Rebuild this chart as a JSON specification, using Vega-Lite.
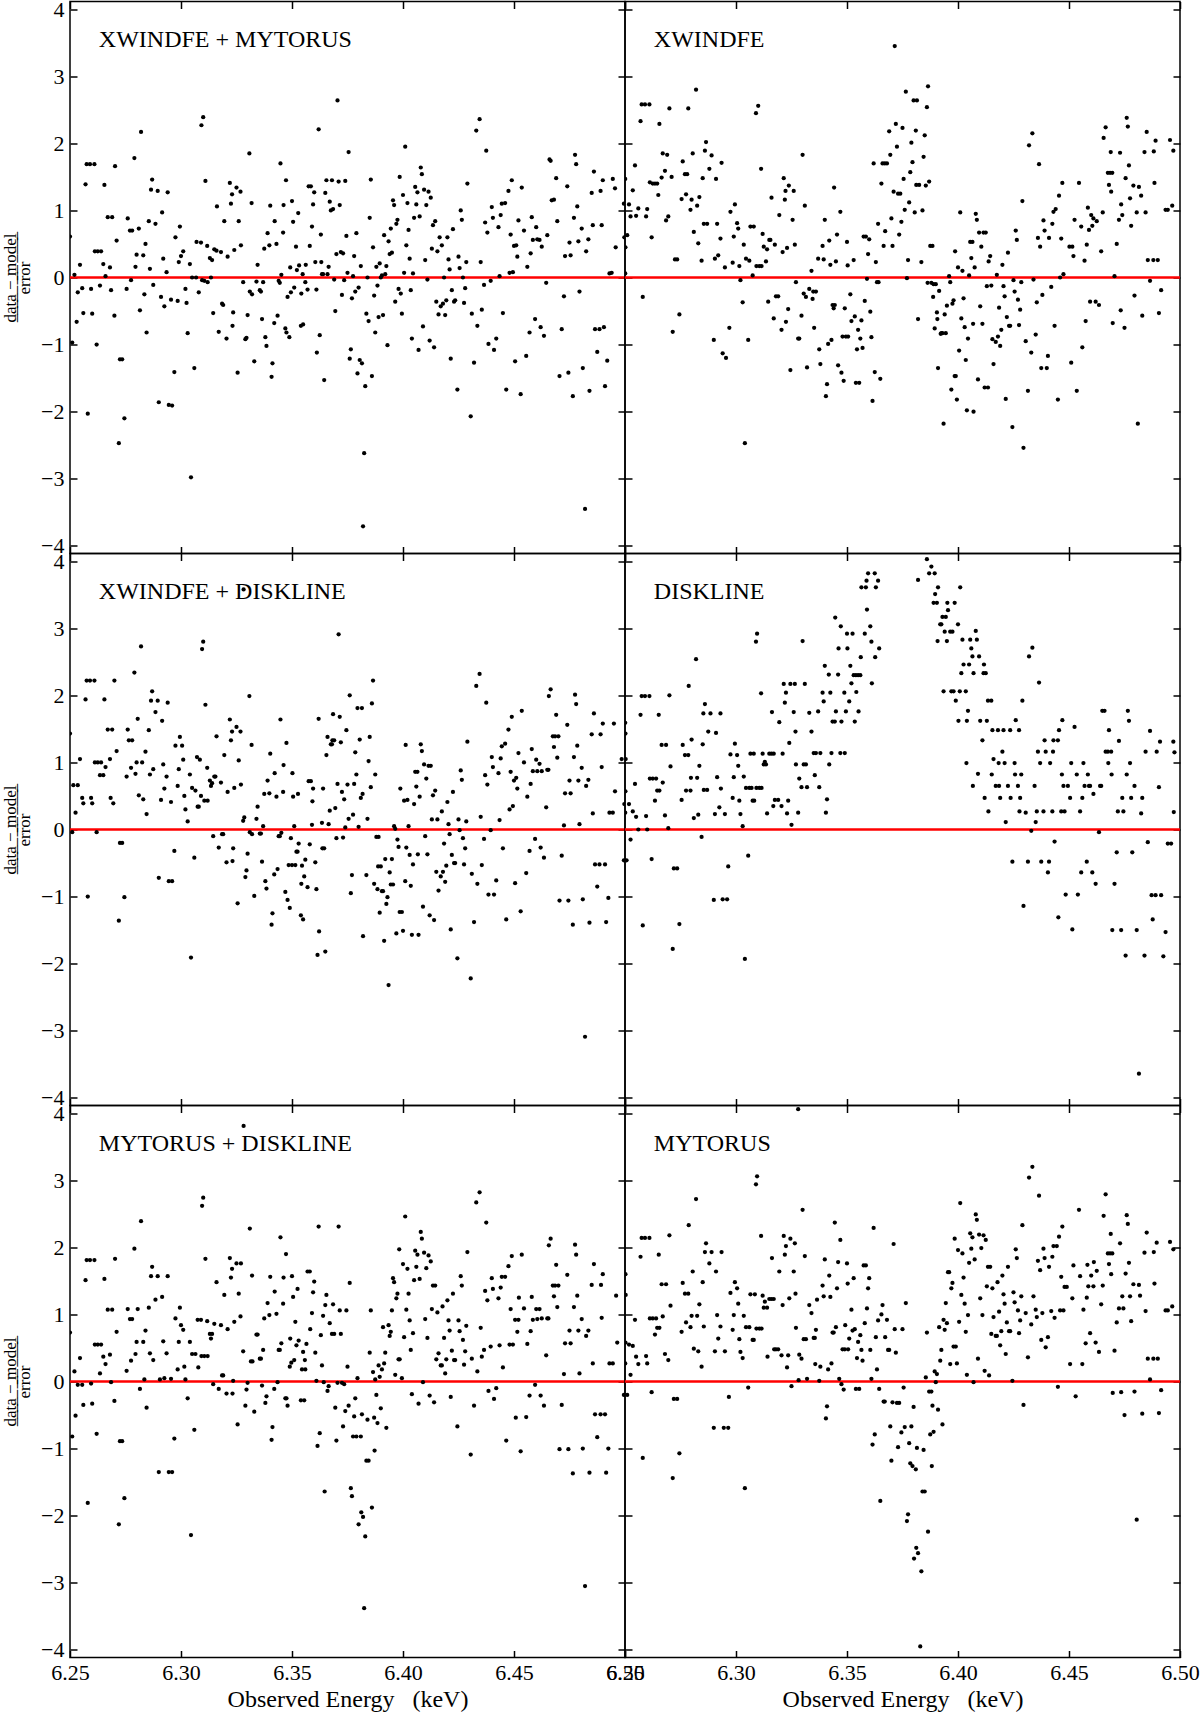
{
"$schema":"https://vega.github.io/schema/vega-lite/v6.json",
"background":"white",
"padding":{"left":0,"top":-3.5,"right":0,"bottom":0},
"columns":2,
"spacing":0,
"bounds":"flush",
"datasets":{
"A":[{"x":6.25,"y":0.61},{"x":6.251,"y":-0.97},{"x":6.252,"y":0.04},{"x":6.253,"y":-0.66},{"x":6.2535,"y":-0.22},{"x":6.2545,"y":0.19},{"x":6.2555,"y":-0.16},{"x":6.256,"y":-0.53},{"x":6.257,"y":1.39},{"x":6.2575,"y":1.69},{"x":6.259,"y":1.69},{"x":6.261,"y":1.69},{"x":6.258,"y":-2.03},{"x":6.2595,"y":-0.17},{"x":6.26,"y":-0.54},{"x":6.2612,"y":0.39},{"x":6.2625,"y":0.39},{"x":6.264,"y":0.39},{"x":6.262,"y":-1.0},{"x":6.2635,"y":-0.12},{"x":6.265,"y":0.2},{"x":6.2655,"y":1.38},{"x":6.266,"y":0.02},{"x":6.267,"y":0.9},{"x":6.269,"y":0.9},{"x":6.268,"y":0.15},{"x":6.2685,"y":-0.19},{"x":6.27,"y":-0.57},{"x":6.2703,"y":1.66},{"x":6.271,"y":0.55},{"x":6.272,"y":-2.47},{"x":6.2725,"y":-1.22},{"x":6.2735,"y":-1.22},{"x":6.2745,"y":-2.1},{"x":6.2755,"y":-0.17},{"x":6.276,"y":0.88},{"x":6.277,"y":0.7},{"x":6.278,"y":0.7},{"x":6.2775,"y":-0.04},{"x":6.279,"y":1.78},{"x":6.2795,"y":0.16},{"x":6.28,"y":0.34},{"x":6.281,"y":0.73},{"x":6.2815,"y":-0.49},{"x":6.282,"y":2.17},{"x":6.283,"y":0.33},{"x":6.2835,"y":-0.25},{"x":6.284,"y":0.5},{"x":6.2845,"y":-0.82},{"x":6.2855,"y":0.84},{"x":6.286,"y":0.13},{"x":6.2865,"y":1.31},{"x":6.287,"y":1.46},{"x":6.2875,"y":-0.11},{"x":6.2885,"y":0.8},{"x":6.2895,"y":1.29},{"x":6.29,"y":-1.86},{"x":6.291,"y":-0.29},{"x":6.2915,"y":0.97},{"x":6.292,"y":0.28},{"x":6.2925,"y":-0.43},{"x":6.2935,"y":0.08},{"x":6.294,"y":1.27},{"x":6.2945,"y":-1.9},{"x":6.296,"y":-1.91},{"x":6.2955,"y":-0.33},{"x":6.297,"y":-1.41},{"x":6.2975,"y":0.6},{"x":6.2985,"y":-0.35},{"x":6.299,"y":0.23},{"x":6.2995,"y":0.76},{"x":6.3,"y":0.32},{"x":6.301,"y":0.39},{"x":6.302,"y":-0.17},{"x":6.3025,"y":-0.38},{"x":6.303,"y":-0.83},{"x":6.304,"y":0.2},{"x":6.3045,"y":-2.98},{"x":6.305,"y":0.0},{"x":6.306,"y":-1.35},{"x":6.3068,"y":0.0},{"x":6.307,"y":0.53},{"x":6.309,"y":0.52},{"x":6.308,"y":-0.22},{"x":6.3095,"y":-0.04},{"x":6.3105,"y":-0.05},{"x":6.312,"y":-0.07},{"x":6.3092,"y":2.27},{"x":6.31,"y":2.39},{"x":6.311,"y":1.44},{"x":6.3118,"y":0.47},{"x":6.313,"y":0.29},{"x":6.314,"y":0.26},{"x":6.3135,"y":0.0},{"x":6.3145,"y":-0.53},{"x":6.315,"y":0.42},{"x":6.316,"y":0.4},{"x":6.3162,"y":1.06},{"x":6.317,"y":-0.81},{"x":6.318,"y":0.38},{"x":6.3185,"y":-0.39},{"x":6.319,"y":-0.41},{"x":6.3195,"y":0.84},{"x":6.3205,"y":-0.91},{"x":6.321,"y":0.31},{"x":6.322,"y":1.41},{"x":6.3225,"y":1.1},{"x":6.323,"y":1.24},{"x":6.3232,"y":-0.72},{"x":6.3235,"y":-0.52},{"x":6.324,"y":0.41},{"x":6.325,"y":1.34},{"x":6.3255,"y":-1.42},{"x":6.326,"y":0.84},{"x":6.3268,"y":1.28},{"x":6.327,"y":0.48},{"x":6.328,"y":-0.07},{"x":6.329,"y":-0.92},{"x":6.3295,"y":-0.9},{"x":6.33,"y":-0.56},{"x":6.3308,"y":1.85},{"x":6.331,"y":-0.21},{"x":6.332,"y":-0.25},{"x":6.3318,"y":1.11},{"x":6.333,"y":-1.25},{"x":6.334,"y":-0.06},{"x":6.3345,"y":0.19},{"x":6.3355,"y":-0.19},{"x":6.336,"y":-0.21},{"x":6.3365,"y":-0.62},{"x":6.337,"y":-0.07},{"x":6.3375,"y":0.43},{"x":6.338,"y":-0.89},{"x":6.3385,"y":-1.02},{"x":6.339,"y":0.66},{"x":6.3398,"y":0.48},{"x":6.3402,"y":1.07},{"x":6.3408,"y":-1.48},{"x":6.3412,"y":-1.28},{"x":6.342,"y":-0.68},{"x":6.3422,"y":0.84},{"x":6.343,"y":0.5},{"x":6.3435,"y":-0.57},{"x":6.344,"y":-0.05},{"x":6.3445,"y":-0.08},{"x":6.3448,"y":1.7},{"x":6.3452,"y":0.04},{"x":6.346,"y":0.67},{"x":6.3462,"y":1.08},{"x":6.347,"y":-0.76},{"x":6.3475,"y":-0.82},{"x":6.3473,"y":1.45},{"x":6.348,"y":-0.29},{"x":6.3488,"y":-0.89},{"x":6.3492,"y":0.15},{"x":6.3495,"y":-0.22},{"x":6.35,"y":1.14},{"x":6.3505,"y":0.83},{"x":6.351,"y":-0.15},{"x":6.3518,"y":0.46},{"x":6.3522,"y":0.11},{"x":6.3528,"y":0.96},{"x":6.3532,"y":0.18},{"x":6.354,"y":-0.72},{"x":6.355,"y":-0.7},{"x":6.3542,"y":-0.24},{"x":6.3548,"y":0.05},{"x":6.356,"y":-0.07},{"x":6.3562,"y":0.19},{"x":6.357,"y":-0.18},{"x":6.3575,"y":1.36},{"x":6.3585,"y":1.36},{"x":6.358,"y":0.47},{"x":6.359,"y":0.76},{"x":6.3595,"y":1.09},{"x":6.36,"y":1.27},{"x":6.3605,"y":0.23},{"x":6.361,"y":-0.18},{"x":6.3612,"y":-1.12},{"x":6.362,"y":2.21},{"x":6.3625,"y":-0.86},{"x":6.363,"y":0.64},{"x":6.3632,"y":0.23},{"x":6.3635,"y":0.05},{"x":6.364,"y":0.05},{"x":6.3645,"y":-1.53},{"x":6.365,"y":1.26},{"x":6.3655,"y":1.45},{"x":6.366,"y":0.05},{"x":6.3665,"y":0.16},{"x":6.367,"y":1.13},{"x":6.3675,"y":1.0},{"x":6.368,"y":1.45},{"x":6.3685,"y":1.02},{"x":6.369,"y":-0.03},{"x":6.3695,"y":-0.5},{"x":6.37,"y":0.35},{"x":6.3705,"y":2.64},{"x":6.371,"y":1.43},{"x":6.3715,"y":1.08},{"x":6.372,"y":0.38},{"x":6.3725,"y":-0.26},{"x":6.373,"y":0.36},{"x":6.3735,"y":-0.04},{"x":6.374,"y":1.44},{"x":6.3745,"y":0.62},{"x":6.375,"y":0.07},{"x":6.3755,"y":1.87},{"x":6.376,"y":-1.21},{"x":6.3765,"y":-1.07},{"x":6.377,"y":-0.31},{"x":6.3775,"y":0.02},{"x":6.378,"y":0.32},{"x":6.3785,"y":-0.21},{"x":6.379,"y":0.66},{"x":6.3795,"y":-1.43},{"x":6.38,"y":-0.15},{"x":6.3805,"y":-1.23},{"x":6.381,"y":0.17},{"x":6.3815,"y":-1.28},{"x":6.382,"y":-3.71},{"x":6.3825,"y":-2.62},{"x":6.383,"y":-1.62},{"x":6.3835,"y":-0.54},{"x":6.384,"y":0.0},{"x":6.3845,"y":-0.65},{"x":6.385,"y":0.89},{"x":6.3855,"y":1.46},{"x":6.386,"y":-1.47},{"x":6.3865,"y":0.45},{"x":6.387,"y":-0.27},{"x":6.3875,"y":-0.82},{"x":6.388,"y":0.16},{"x":6.3885,"y":-0.12},{"x":6.389,"y":-0.59},{"x":6.3895,"y":0.21},{"x":6.39,"y":0.0},{"x":6.3905,"y":0.03},{"x":6.391,"y":-0.56},{"x":6.3915,"y":0.63},{"x":6.392,"y":0.05},{"x":6.3925,"y":0.17},{"x":6.393,"y":-1.01},{"x":6.3935,"y":0.54},{"x":6.394,"y":0.35},{"x":6.3945,"y":0.73},{"x":6.395,"y":0.37},{"x":6.3955,"y":1.15},{"x":6.396,"y":1.08},{"x":6.3965,"y":-0.36},{"x":6.397,"y":0.8},{"x":6.3975,"y":0.86},{"x":6.398,"y":-0.17},{"x":6.3985,"y":1.5},{"x":6.399,"y":-0.24},{"x":6.3995,"y":-0.54},{"x":6.4,"y":1.23},{"x":6.4005,"y":0.07},{"x":6.401,"y":1.95},{"x":6.4015,"y":0.48},{"x":6.402,"y":1.11},{"x":6.4025,"y":0.71},{"x":6.403,"y":0.28},{"x":6.4035,"y":-0.19},{"x":6.404,"y":-0.91},{"x":6.4045,"y":0.06},{"x":6.405,"y":0.89},{"x":6.4055,"y":1.35},{"x":6.406,"y":1.09},{"x":6.4065,"y":1.27},{"x":6.407,"y":-1.08},{"x":6.4075,"y":0.91},{"x":6.408,"y":1.64},{"x":6.4085,"y":1.54},{"x":6.409,"y":-0.73},{"x":6.4095,"y":1.31},{"x":6.41,"y":0.26},{"x":6.4105,"y":1.08},{"x":6.411,"y":-0.03},{"x":6.4115,"y":1.28},{"x":6.412,"y":-0.94},{"x":6.4125,"y":1.19},{"x":6.413,"y":0.43},{"x":6.4135,"y":0.78},{"x":6.414,"y":-1.04},{"x":6.4145,"y":0.84},{"x":6.415,"y":-0.36},{"x":6.4155,"y":0.39},{"x":6.416,"y":-0.55},{"x":6.4165,"y":0.6},{"x":6.417,"y":-0.43},{"x":6.4175,"y":0.48},{"x":6.418,"y":-0.39},{"x":6.4185,"y":0.0},{"x":6.419,"y":-0.56},{"x":6.4195,"y":-0.34},{"x":6.42,"y":0.6},{"x":6.4205,"y":0.27},{"x":6.421,"y":0.12},{"x":6.4215,"y":-1.21},{"x":6.422,"y":-0.19},{"x":6.4225,"y":0.72},{"x":6.423,"y":-0.36},{"x":6.4235,"y":-0.34},{"x":6.4245,"y":-1.67},{"x":6.425,"y":0.31},{"x":6.4255,"y":0.14},{"x":6.426,"y":1.0},{"x":6.4265,"y":0.86},{"x":6.427,"y":0.0},{"x":6.4275,"y":-0.38},{"x":6.428,"y":-0.16},{"x":6.4285,"y":0.23},{"x":6.429,"y":1.4},{"x":6.4305,"y":-2.07},{"x":6.431,"y":-0.54},{"x":6.432,"y":-1.27},{"x":6.433,"y":2.19},{"x":6.4335,"y":-0.72},{"x":6.4345,"y":2.36},{"x":6.435,"y":0.23},{"x":6.4355,"y":-0.48},{"x":6.4365,"y":-0.11},{"x":6.437,"y":0.82},{"x":6.4375,"y":1.89},{"x":6.438,"y":0.67},{"x":6.4385,"y":-0.99},{"x":6.4395,"y":-0.05},{"x":6.44,"y":1.05},{"x":6.4405,"y":0.89},{"x":6.441,"y":-1.08},{"x":6.442,"y":-0.91},{"x":6.443,"y":0.75},{"x":6.4435,"y":0.02},{"x":6.444,"y":0.93},{"x":6.4445,"y":1.1},{"x":6.445,"y":-0.53},{"x":6.446,"y":1.11},{"x":6.4465,"y":-1.67},{"x":6.4475,"y":1.29},{"x":6.448,"y":0.07},{"x":6.4485,"y":0.64},{"x":6.449,"y":1.45},{"x":6.4495,"y":0.08},{"x":6.45,"y":0.47},{"x":6.4505,"y":-1.25},{"x":6.451,"y":0.48},{"x":6.4515,"y":0.31},{"x":6.452,"y":0.85},{"x":6.453,"y":-1.74},{"x":6.4535,"y":1.34},{"x":6.4545,"y":0.7},{"x":6.4555,"y":-1.17},{"x":6.456,"y":0.16},{"x":6.457,"y":-0.82},{"x":6.4575,"y":0.36},{"x":6.458,"y":0.9},{"x":6.4585,"y":0.56},{"x":6.4595,"y":-0.62},{"x":6.46,"y":0.75},{"x":6.4605,"y":0.57},{"x":6.4615,"y":0.56},{"x":6.462,"y":-0.74},{"x":6.4625,"y":0.46},{"x":6.4635,"y":-0.87},{"x":6.4645,"y":-0.08},{"x":6.465,"y":0.63},{"x":6.466,"y":1.76},{"x":6.4665,"y":1.74},{"x":6.467,"y":1.15},{"x":6.468,"y":1.16},{"x":6.469,"y":1.48},{"x":6.4695,"y":0.84},{"x":6.4705,"y":-1.47},{"x":6.4715,"y":-0.77},{"x":6.4725,"y":-0.28},{"x":6.473,"y":0.32},{"x":6.474,"y":1.36},{"x":6.4745,"y":-1.42},{"x":6.475,"y":0.52},{"x":6.4755,"y":0.33},{"x":6.4765,"y":-1.77},{"x":6.477,"y":0.89},{"x":6.4775,"y":1.83},{"x":6.478,"y":1.69},{"x":6.4785,"y":1.06},{"x":6.479,"y":0.54},{"x":6.4795,"y":-0.21},{"x":6.4805,"y":0.73},{"x":6.481,"y":-1.35},{"x":6.482,"y":-3.45},{"x":6.4825,"y":0.39},{"x":6.4835,"y":0.57},{"x":6.484,"y":-1.69},{"x":6.485,"y":1.26},{"x":6.4855,"y":0.78},{"x":6.486,"y":1.58},{"x":6.4865,"y":-0.77},{"x":6.4875,"y":-1.11},{"x":6.4885,"y":-0.77},{"x":6.489,"y":1.29},{"x":6.4895,"y":0.78},{"x":6.49,"y":1.45},{"x":6.4905,"y":-0.74},{"x":6.491,"y":-1.62},{"x":6.492,"y":-1.24},{"x":6.493,"y":0.06},{"x":6.494,"y":0.07},{"x":6.4945,"y":1.47},{"x":6.4955,"y":1.33},{"x":6.4958,"y":0.45},{"x":6.4995,"y":1.1},{"x":6.4997,"y":0.6}],
"B":[{"x":6.2501,"y":1.47},{"x":6.2502,"y":0.45},{"x":6.2501,"y":0.06},{"x":6.251,"y":0.63},{"x":6.2518,"y":1.09},{"x":6.2525,"y":0.91},{"x":6.2535,"y":1.3},{"x":6.2545,"y":1.67},{"x":6.255,"y":0.92},{"x":6.256,"y":1.03},{"x":6.257,"y":2.33},{"x":6.2575,"y":2.58},{"x":6.259,"y":2.58},{"x":6.261,"y":2.58},{"x":6.258,"y":-0.29},{"x":6.2595,"y":0.91},{"x":6.26,"y":1.02},{"x":6.2612,"y":1.42},{"x":6.262,"y":0.6},{"x":6.2625,"y":1.4},{"x":6.2635,"y":1.4},{"x":6.2645,"y":1.4},{"x":6.265,"y":1.23},{"x":6.2655,"y":2.29},{"x":6.2665,"y":1.49},{"x":6.267,"y":1.85},{"x":6.268,"y":1.59},{"x":6.2685,"y":0.85},{"x":6.269,"y":1.83},{"x":6.2695,"y":0.91},{"x":6.27,"y":2.52},{"x":6.271,"y":1.5},{"x":6.2715,"y":-0.81},{"x":6.2725,"y":0.27},{"x":6.2735,"y":0.27},{"x":6.2745,"y":-0.55},{"x":6.2755,"y":1.17},{"x":6.276,"y":1.73},{"x":6.277,"y":1.54},{"x":6.278,"y":1.54},{"x":6.2775,"y":1.24},{"x":6.2785,"y":2.52},{"x":6.2795,"y":1.01},{"x":6.28,"y":1.16},{"x":6.2805,"y":1.85},{"x":6.281,"y":0.68},{"x":6.282,"y":2.8},{"x":6.2825,"y":1.07},{"x":6.283,"y":0.51},{"x":6.2835,"y":1.2},{"x":6.2845,"y":0.25},{"x":6.285,"y":1.48},{"x":6.2855,"y":0.8},{"x":6.287,"y":0.8},{"x":6.286,"y":1.89},{"x":6.2865,"y":2.02},{"x":6.288,"y":1.62},{"x":6.289,"y":1.82},{"x":6.29,"y":-0.93},{"x":6.2905,"y":0.28},{"x":6.291,"y":1.47},{"x":6.2915,"y":0.8},{"x":6.292,"y":0.33},{"x":6.293,"y":0.58},{"x":6.2935,"y":1.71},{"x":6.294,"y":-1.13},{"x":6.295,"y":0.15},{"x":6.2955,"y":-1.2},{"x":6.297,"y":-0.75},{"x":6.2975,"y":0.98},{"x":6.2985,"y":0.22},{"x":6.299,"y":0.61},{"x":6.2995,"y":1.09},{"x":6.3005,"y":0.81},{"x":6.301,"y":0.73},{"x":6.3015,"y":0.17},{"x":6.302,"y":-0.04},{"x":6.303,"y":-0.37},{"x":6.3035,"y":0.49},{"x":6.304,"y":-2.47},{"x":6.3045,"y":0.28},{"x":6.3055,"y":-0.93},{"x":6.306,"y":0.25},{"x":6.3065,"y":0.76},{"x":6.308,"y":0.76},{"x":6.3075,"y":0.03},{"x":6.309,"y":2.45},{"x":6.31,"y":2.56},{"x":6.3092,"y":0.17},{"x":6.3105,"y":0.17},{"x":6.3115,"y":0.17},{"x":6.3113,"y":1.62},{"x":6.312,"y":0.65},{"x":6.3125,"y":0.46},{"x":6.3135,"y":0.24},{"x":6.314,"y":0.42},{"x":6.3145,"y":-0.36},{"x":6.315,"y":0.56},{"x":6.3155,"y":0.56},{"x":6.316,"y":1.19},{"x":6.317,"y":-0.61},{"x":6.3175,"y":0.49},{"x":6.318,"y":-0.28},{"x":6.319,"y":-0.28},{"x":6.3195,"y":0.93},{"x":6.3205,"y":-0.78},{"x":6.321,"y":0.38},{"x":6.3215,"y":1.48},{"x":6.322,"y":1.16},{"x":6.3225,"y":-0.66},{"x":6.3235,"y":-0.47},{"x":6.3223,"y":1.29},{"x":6.3238,"y":1.37},{"x":6.323,"y":0.44},{"x":6.3245,"y":-1.38},{"x":6.3255,"y":0.86},{"x":6.326,"y":1.29},{"x":6.3265,"y":0.49},{"x":6.327,"y":-0.07},{"x":6.328,"y":-0.91},{"x":6.3285,"y":-0.91},{"x":6.3295,"y":-0.57},{"x":6.33,"y":1.83},{"x":6.3305,"y":-0.24},{"x":6.331,"y":1.07},{"x":6.3315,"y":-0.29},{"x":6.332,"y":-1.34},{"x":6.333,"y":-0.17},{"x":6.334,"y":0.1},{"x":6.3345,"y":-0.32},{"x":6.3348,"y":-0.21},{"x":6.3352,"y":-0.75},{"x":6.336,"y":-0.21},{"x":6.337,"y":0.28},{"x":6.3375,"y":-1.07},{"x":6.338,"y":-1.29},{"x":6.339,"y":0.47},{"x":6.3395,"y":0.27},{"x":6.34,"y":0.86},{"x":6.341,"y":-1.59},{"x":6.3405,"y":-1.77},{"x":6.3415,"y":-0.99},{"x":6.342,"y":0.55},{"x":6.3425,"y":0.19},{"x":6.343,"y":-0.93},{"x":6.3435,"y":-0.41},{"x":6.3445,"y":-0.41},{"x":6.344,"y":-0.46},{"x":6.3442,"y":1.34},{"x":6.345,"y":0.24},{"x":6.3455,"y":0.64},{"x":6.346,"y":-1.31},{"x":6.347,"y":0.98},{"x":6.3475,"y":-1.42},{"x":6.348,"y":-0.88},{"x":6.3495,"y":-0.88},{"x":6.3505,"y":-0.88},{"x":6.3485,"y":-1.54},{"x":6.349,"y":-0.46},{"x":6.35,"y":0.53},{"x":6.3503,"y":0.18},{"x":6.3515,"y":-0.25},{"x":6.352,"y":-0.65},{"x":6.353,"y":0.26},{"x":6.3535,"y":-0.58},{"x":6.354,"y":-1.57},{"x":6.3555,"y":-1.57},{"x":6.3545,"y":-1.07},{"x":6.355,"y":-0.78},{"x":6.356,"y":-0.91},{"x":6.3565,"y":-0.64},{"x":6.357,"y":-1.05},{"x":6.3575,"y":0.61},{"x":6.3585,"y":0.61},{"x":6.358,"y":-0.35},{"x":6.359,"y":-0.02},{"x":6.3595,"y":0.35},{"x":6.36,"y":0.57},{"x":6.3605,"y":-0.51},{"x":6.361,"y":-0.89},{"x":6.3615,"y":-1.84},{"x":6.362,"y":1.7},{"x":6.3625,"y":-1.41},{"x":6.363,"y":0.23},{"x":6.3635,"y":-0.07},{"x":6.3642,"y":-0.07},{"x":6.364,"y":0.8},{"x":6.365,"y":-1.51},{"x":6.3655,"y":1.4},{"x":6.366,"y":1.7},{"x":6.367,"y":1.7},{"x":6.368,"y":1.7},{"x":6.3665,"y":0.47},{"x":6.3672,"y":0.69},{"x":6.369,"y":2.18},{"x":6.3695,"y":1.83},{"x":6.37,"y":0.88},{"x":6.3705,"y":0.47},{"x":6.371,"y":1.28},{"x":6.3715,"y":3.45},{"x":6.372,"y":2.29},{"x":6.3725,"y":1.95},{"x":6.373,"y":1.25},{"x":6.374,"y":1.25},{"x":6.3735,"y":0.64},{"x":6.3745,"y":0.83},{"x":6.375,"y":2.23},{"x":6.3755,"y":1.47},{"x":6.376,"y":1.01},{"x":6.3765,"y":2.77},{"x":6.377,"y":-0.01},{"x":6.3775,"y":0.26},{"x":6.378,"y":1.12},{"x":6.3785,"y":1.57},{"x":6.379,"y":2.01},{"x":6.3795,"y":1.72},{"x":6.38,"y":2.64},{"x":6.3815,"y":2.64},{"x":6.3805,"y":0.97},{"x":6.381,"y":2.19},{"x":6.3812,"y":1.38},{"x":6.3825,"y":1.38},{"x":6.382,"y":-0.62},{"x":6.3835,"y":0.23},{"x":6.384,"y":1.0},{"x":6.3845,"y":1.8},{"x":6.385,"y":2.12},{"x":6.3855,"y":1.37},{"x":6.386,"y":2.54},{"x":6.3865,"y":2.85},{"x":6.387,"y":1.43},{"x":6.3863,"y":-0.08},{"x":6.3875,"y":0.47},{"x":6.3885,"y":0.47},{"x":6.388,"y":-0.08},{"x":6.3888,"y":-0.29},{"x":6.389,"y":-0.1},{"x":6.39,"y":-0.1},{"x":6.3895,"y":-0.76},{"x":6.3905,"y":-0.52},{"x":6.391,"y":-1.35},{"x":6.3907,"y":-0.62},{"x":6.3915,"y":-0.2},{"x":6.3925,"y":-0.83},{"x":6.393,"y":-0.83},{"x":6.3945,"y":-0.83},{"x":6.3922,"y":-0.84},{"x":6.3935,"y":-2.18},{"x":6.394,"y":-0.55},{"x":6.395,"y":-0.42},{"x":6.396,"y":0.02},{"x":6.3965,"y":-0.07},{"x":6.397,"y":-1.67},{"x":6.3975,"y":-0.39},{"x":6.398,"y":-0.34},{"x":6.3985,"y":-1.47},{"x":6.399,"y":-1.47},{"x":6.3987,"y":0.39},{"x":6.3995,"y":-1.82},{"x":6.4,"y":0.15},{"x":6.4005,"y":-1.09},{"x":6.401,"y":0.97},{"x":6.4015,"y":-0.61},{"x":6.402,"y":0.1},{"x":6.4025,"y":-0.31},{"x":6.403,"y":-0.74},{"x":6.4035,"y":-1.23},{"x":6.404,"y":-1.98},{"x":6.4045,"y":-0.91},{"x":6.405,"y":0.03},{"x":6.4055,"y":0.53},{"x":6.4065,"y":0.53},{"x":6.406,"y":0.29},{"x":6.4068,"y":-0.69},{"x":6.407,"y":-2.0},{"x":6.4075,"y":0.15},{"x":6.408,"y":0.95},{"x":6.4085,"y":0.86},{"x":6.409,"y":-1.52},{"x":6.4095,"y":0.67},{"x":6.41,"y":-0.43},{"x":6.4105,"y":0.46},{"x":6.411,"y":-0.69},{"x":6.4115,"y":0.67},{"x":6.4125,"y":0.67},{"x":6.412,"y":-1.64},{"x":6.4135,"y":-1.64},{"x":6.413,"y":-0.13},{"x":6.4138,"y":0.24},{"x":6.4145,"y":0.32},{"x":6.415,"y":-0.12},{"x":6.4155,"y":-0.92},{"x":6.416,"y":-1.29},{"x":6.4175,"y":0.04},{"x":6.418,"y":-0.88},{"x":6.4185,"y":-0.45},{"x":6.417,"y":-0.96},{"x":6.419,"y":-1.02},{"x":6.4195,"y":-0.78},{"x":6.42,"y":0.19},{"x":6.4205,"y":-0.13},{"x":6.421,"y":-0.28},{"x":6.4215,"y":-1.81},{"x":6.422,"y":-0.59},{"x":6.4225,"y":0.37},{"x":6.423,"y":-0.72},{"x":6.4235,"y":-0.72},{"x":6.4245,"y":-2.23},{"x":6.425,"y":-0.04},{"x":6.4255,"y":-0.21},{"x":6.426,"y":0.7},{"x":6.4265,"y":0.56},{"x":6.427,"y":-0.33},{"x":6.4275,"y":-0.71},{"x":6.428,"y":-0.48},{"x":6.4285,"y":-0.07},{"x":6.429,"y":1.14},{"x":6.4295,"y":-2.54},{"x":6.4305,"y":-0.95},{"x":6.4315,"y":-1.69},{"x":6.432,"y":1.97},{"x":6.433,"y":-1.12},{"x":6.4335,"y":2.15},{"x":6.434,"y":-0.03},{"x":6.435,"y":-0.85},{"x":6.4355,"y":-0.37},{"x":6.436,"y":0.59},{"x":6.4365,"y":1.69},{"x":6.437,"y":0.46},{"x":6.4375,"y":-1.35},{"x":6.44,"y":-1.35},{"x":6.438,"y":-0.26},{"x":6.4385,"y":0.85},{"x":6.439,"y":0.7},{"x":6.4405,"y":-1.17},{"x":6.441,"y":0.59},{"x":6.442,"y":-0.14},{"x":6.4425,"y":0.8},{"x":6.443,"y":0.98},{"x":6.4435,"y":-0.72},{"x":6.444,"y":1.02},{"x":6.445,"y":-1.82},{"x":6.4455,"y":1.22},{"x":6.446,"y":0.0},{"x":6.4465,"y":0.58},{"x":6.447,"y":1.41},{"x":6.4475,"y":0.05},{"x":6.4502,"y":0.46},{"x":6.4515,"y":0.46},{"x":6.451,"y":-1.27},{"x":6.452,"y":0.32},{"x":6.4525,"y":0.86},{"x":6.4535,"y":-1.69},{"x":6.4545,"y":1.41},{"x":6.4555,"y":0.76},{"x":6.456,"y":-1.04},{"x":6.457,"y":0.25},{"x":6.4575,"y":-0.65},{"x":6.458,"y":0.49},{"x":6.4585,"y":1.04},{"x":6.459,"y":0.71},{"x":6.4595,"y":-0.36},{"x":6.46,"y":0.93},{"x":6.4605,"y":0.77},{"x":6.461,"y":0.88},{"x":6.462,"y":-0.36},{"x":6.4625,"y":0.84},{"x":6.4635,"y":-0.41},{"x":6.4645,"y":0.39},{"x":6.4652,"y":0.97},{"x":6.4656,"y":2.08},{"x":6.4665,"y":2.24},{"x":6.4675,"y":1.56},{"x":6.4685,"y":1.56},{"x":6.4695,"y":1.56},{"x":6.468,"y":1.38},{"x":6.4688,"y":1.87},{"x":6.469,"y":1.28},{"x":6.4697,"y":-0.68},{"x":6.4705,"y":0.02},{"x":6.4715,"y":0.5},{"x":6.4725,"y":0.86},{"x":6.473,"y":1.86},{"x":6.4733,"y":-0.49},{"x":6.4735,"y":1.09},{"x":6.474,"y":0.93},{"x":6.475,"y":-0.75},{"x":6.4755,"y":1.48},{"x":6.476,"y":2.38},{"x":6.4765,"y":2.25},{"x":6.477,"y":1.67},{"x":6.4775,"y":1.18},{"x":6.478,"y":0.77},{"x":6.479,"y":1.37},{"x":6.4795,"y":-0.27},{"x":6.4805,"y":0.97},{"x":6.481,"y":-2.18},{"x":6.4815,"y":1.35},{"x":6.4825,"y":1.22},{"x":6.483,"y":-0.57},{"x":6.484,"y":1.87},{"x":6.4845,"y":0.97},{"x":6.485,"y":2.17},{"x":6.4855,"y":0.26},{"x":6.488,"y":0.26},{"x":6.49,"y":0.26},{"x":6.4865,"y":-0.05},{"x":6.4882,"y":1.88},{"x":6.4885,"y":1.41},{"x":6.489,"y":2.04},{"x":6.4905,"y":-0.53},{"x":6.4915,"y":-0.19},{"x":6.4935,"y":1.01},{"x":6.4945,"y":1.01},{"x":6.4955,"y":2.05},{"x":6.4965,"y":1.07},{"x":6.497,"y":1.89}],
"C":[{"x":6.25,"y":1.43},{"x":6.251,"y":-0.04},{"x":6.2515,"y":0.66},{"x":6.2535,"y":0.66},{"x":6.2525,"y":0.25},{"x":6.2545,"y":1.05},{"x":6.2555,"y":0.47},{"x":6.256,"y":0.39},{"x":6.257,"y":1.94},{"x":6.2575,"y":2.22},{"x":6.259,"y":2.22},{"x":6.261,"y":2.22},{"x":6.258,"y":-1.0},{"x":6.2595,"y":0.47},{"x":6.26,"y":0.39},{"x":6.2612,"y":1.0},{"x":6.2625,"y":1.0},{"x":6.264,"y":1.0},{"x":6.262,"y":-0.04},{"x":6.2635,"y":0.81},{"x":6.265,"y":0.81},{"x":6.2655,"y":1.94},{"x":6.266,"y":0.93},{"x":6.267,"y":1.49},{"x":6.269,"y":1.49},{"x":6.268,"y":1.05},{"x":6.2683,"y":0.47},{"x":6.2695,"y":0.39},{"x":6.27,"y":2.22},{"x":6.271,"y":1.17},{"x":6.272,"y":-1.36},{"x":6.2725,"y":-0.2},{"x":6.2735,"y":-0.2},{"x":6.2745,"y":-1.01},{"x":6.2755,"y":0.79},{"x":6.276,"y":1.49},{"x":6.2765,"y":1.33},{"x":6.278,"y":1.33},{"x":6.2775,"y":0.92},{"x":6.279,"y":2.34},{"x":6.2795,"y":0.83},{"x":6.28,"y":1.0},{"x":6.2805,"y":1.65},{"x":6.281,"y":0.51},{"x":6.282,"y":2.73},{"x":6.2825,"y":1.0},{"x":6.283,"y":0.45},{"x":6.284,"y":1.16},{"x":6.2845,"y":0.23},{"x":6.2855,"y":1.48},{"x":6.286,"y":0.82},{"x":6.2865,"y":1.92},{"x":6.287,"y":2.06},{"x":6.2875,"y":0.9},{"x":6.2885,"y":1.75},{"x":6.2895,"y":1.92},{"x":6.29,"y":-0.72},{"x":6.291,"y":0.44},{"x":6.2915,"y":1.62},{"x":6.292,"y":0.97},{"x":6.2925,"y":0.61},{"x":6.2935,"y":0.79},{"x":6.294,"y":1.89},{"x":6.2945,"y":-0.77},{"x":6.296,"y":-0.77},{"x":6.2955,"y":0.41},{"x":6.297,"y":-0.32},{"x":6.2975,"y":1.25},{"x":6.2985,"y":0.65},{"x":6.299,"y":0.9},{"x":6.2995,"y":1.38},{"x":6.3005,"y":1.25},{"x":6.301,"y":1.04},{"x":6.3015,"y":0.5},{"x":6.302,"y":0.3},{"x":6.303,"y":0.12},{"x":6.304,"y":0.82},{"x":6.3045,"y":-1.91},{"x":6.305,"y":0.62},{"x":6.306,"y":-0.42},{"x":6.3065,"y":0.58},{"x":6.3072,"y":1.08},{"x":6.3075,"y":0.34},{"x":6.308,"y":0.34},{"x":6.3085,"y":1.04},{"x":6.309,"y":0.5},{"x":6.3095,"y":2.69},{"x":6.31,"y":2.8},{"x":6.3105,"y":0.43},{"x":6.312,"y":0.43},{"x":6.311,"y":1.86},{"x":6.3118,"y":0.92},{"x":6.313,"y":0.73},{"x":6.3135,"y":0.65},{"x":6.314,"y":0.69},{"x":6.3145,"y":-0.1},{"x":6.315,"y":0.79},{"x":6.3155,"y":0.79},{"x":6.316,"y":1.39},{"x":6.317,"y":-0.27},{"x":6.318,"y":0.7},{"x":6.3185,"y":-0.07},{"x":6.319,"y":-0.07},{"x":6.3195,"y":1.11},{"x":6.3205,"y":-0.49},{"x":6.321,"y":0.56},{"x":6.322,"y":1.64},{"x":6.3225,"y":1.33},{"x":6.323,"y":1.46},{"x":6.3232,"y":-0.47},{"x":6.3235,"y":-0.28},{"x":6.324,"y":0.62},{"x":6.325,"y":1.53},{"x":6.3255,"y":-1.1},{"x":6.326,"y":1.03},{"x":6.3268,"y":1.46},{"x":6.327,"y":0.67},{"x":6.328,"y":0.13},{"x":6.3282,"y":3.58},{"x":6.3285,"y":0.18},{"x":6.329,"y":-0.71},{"x":6.3295,"y":-0.61},{"x":6.33,"y":-0.36},{"x":6.3308,"y":1.99},{"x":6.331,"y":-0.04},{"x":6.3318,"y":1.26},{"x":6.332,"y":-0.07},{"x":6.333,"y":-0.99},{"x":6.334,"y":0.16},{"x":6.3345,"y":0.34},{"x":6.3355,"y":-0.06},{"x":6.336,"y":-0.06},{"x":6.3365,"y":-0.48},{"x":6.337,"y":0.05},{"x":6.3375,"y":0.53},{"x":6.338,"y":-0.77},{"x":6.3385,"y":-0.88},{"x":6.339,"y":0.73},{"x":6.3398,"y":0.54},{"x":6.3402,"y":1.13},{"x":6.3408,"y":-1.42},{"x":6.3412,"y":-1.25},{"x":6.342,"y":-0.67},{"x":6.3422,"y":0.84},{"x":6.343,"y":0.49},{"x":6.3435,"y":-0.59},{"x":6.344,"y":-0.1},{"x":6.3445,"y":-0.1},{"x":6.3448,"y":1.64},{"x":6.3452,"y":-0.05},{"x":6.346,"y":0.56},{"x":6.3462,"y":0.96},{"x":6.347,"y":-0.93},{"x":6.3475,"y":1.29},{"x":6.348,"y":-1.05},{"x":6.3485,"y":-0.53},{"x":6.35,"y":-0.53},{"x":6.3515,"y":-0.53},{"x":6.349,"y":-1.17},{"x":6.3495,"y":-0.13},{"x":6.3502,"y":0.84},{"x":6.3505,"y":0.49},{"x":6.351,"y":0.05},{"x":6.352,"y":-0.33},{"x":6.3525,"y":-0.33},{"x":6.3527,"y":0.53},{"x":6.353,"y":-0.21},{"x":6.354,"y":-1.28},{"x":6.3542,"y":-0.81},{"x":6.3545,"y":-0.54},{"x":6.355,"y":-1.34},{"x":6.3555,"y":-0.7},{"x":6.356,"y":-0.45},{"x":6.357,"y":-0.86},{"x":6.3575,"y":0.72},{"x":6.3585,"y":0.72},{"x":6.358,"y":-0.22},{"x":6.359,"y":0.07},{"x":6.3592,"y":0.42},{"x":6.3595,"y":0.61},{"x":6.3605,"y":-0.49},{"x":6.361,"y":-0.89},{"x":6.3615,"y":-1.87},{"x":6.362,"y":1.65},{"x":6.3622,"y":-1.52},{"x":6.3635,"y":0.1},{"x":6.3637,"y":-0.28},{"x":6.3645,"y":-0.28},{"x":6.364,"y":0.61},{"x":6.365,"y":-1.82},{"x":6.3655,"y":1.11},{"x":6.366,"y":1.38},{"x":6.3665,"y":0.08},{"x":6.367,"y":0.28},{"x":6.3675,"y":1.27},{"x":6.368,"y":1.27},{"x":6.3682,"y":1.33},{"x":6.3685,"y":1.72},{"x":6.369,"y":1.33},{"x":6.3695,"y":0.32},{"x":6.37,"y":-0.13},{"x":6.3705,"y":0.68},{"x":6.371,"y":2.91},{"x":6.3715,"y":1.68},{"x":6.372,"y":1.3},{"x":6.3725,"y":0.56},{"x":6.373,"y":-0.12},{"x":6.3735,"y":0.45},{"x":6.374,"y":0.03},{"x":6.3745,"y":1.48},{"x":6.375,"y":0.67},{"x":6.3755,"y":0.16},{"x":6.376,"y":2.0},{"x":6.3765,"y":-0.95},{"x":6.377,"y":-0.68},{"x":6.3775,"y":0.22},{"x":6.378,"y":0.68},{"x":6.3785,"y":1.15},{"x":6.379,"y":0.82},{"x":6.3795,"y":1.81},{"x":6.3815,"y":1.81},{"x":6.38,"y":0.04},{"x":6.3805,"y":1.34},{"x":6.381,"y":0.47},{"x":6.3818,"y":0.53},{"x":6.382,"y":-1.59},{"x":6.3835,"y":-0.68},{"x":6.384,"y":0.16},{"x":6.3845,"y":1.02},{"x":6.385,"y":1.38},{"x":6.3855,"y":0.63},{"x":6.386,"y":1.88},{"x":6.3865,"y":2.22},{"x":6.387,"y":-0.81},{"x":6.3875,"y":0.82},{"x":6.388,"y":-0.11},{"x":6.389,"y":-0.11},{"x":6.3885,"y":-0.89},{"x":6.3888,"y":-0.55},{"x":6.39,"y":-0.55},{"x":6.3895,"y":-1.24},{"x":6.3905,"y":-0.92},{"x":6.391,"y":-0.92},{"x":6.3915,"y":-1.66},{"x":6.392,"y":-0.44},{"x":6.3925,"y":-1.11},{"x":6.393,"y":-1.01},{"x":6.3935,"y":-2.32},{"x":6.394,"y":-0.64},{"x":6.3945,"y":-0.82},{"x":6.3955,"y":-0.82},{"x":6.395,"y":-0.44},{"x":6.396,"y":0.05},{"x":6.3965,"y":0.01},{"x":6.397,"y":-1.55},{"x":6.3975,"y":-0.15},{"x":6.398,"y":-0.26},{"x":6.3985,"y":-1.23},{"x":6.3995,"y":-1.23},{"x":6.3988,"y":0.61},{"x":6.4,"y":-1.51},{"x":6.4005,"y":0.43},{"x":6.401,"y":-0.77},{"x":6.4012,"y":1.26},{"x":6.4015,"y":-0.27},{"x":6.402,"y":0.44},{"x":6.4025,"y":0.05},{"x":6.403,"y":-0.38},{"x":6.4035,"y":-0.84},{"x":6.404,"y":-1.57},{"x":6.407,"y":-1.57},{"x":6.4045,"y":-0.52},{"x":6.405,"y":0.38},{"x":6.4055,"y":0.86},{"x":6.4065,"y":0.86},{"x":6.406,"y":0.64},{"x":6.4067,"y":-0.37},{"x":6.4075,"y":0.49},{"x":6.408,"y":1.27},{"x":6.4085,"y":1.17},{"x":6.409,"y":-1.15},{"x":6.4095,"y":0.97},{"x":6.41,"y":-0.1},{"x":6.4105,"y":0.76},{"x":6.411,"y":-0.37},{"x":6.4115,"y":0.95},{"x":6.4125,"y":0.95},{"x":6.412,"y":-1.28},{"x":6.413,"y":0.15},{"x":6.4155,"y":0.15},{"x":6.4135,"y":0.51},{"x":6.414,"y":-1.35},{"x":6.4145,"y":0.58},{"x":6.415,"y":-0.63},{"x":6.416,"y":-0.91},{"x":6.417,"y":-0.7},{"x":6.4175,"y":0.27},{"x":6.418,"y":-0.63},{"x":6.4185,"y":-0.21},{"x":6.419,"y":-0.78},{"x":6.4195,"y":-0.54},{"x":6.42,"y":0.41},{"x":6.4205,"y":0.08},{"x":6.421,"y":-0.07},{"x":6.4215,"y":-1.49},{"x":6.422,"y":-0.38},{"x":6.4225,"y":0.56},{"x":6.423,"y":-0.5},{"x":6.4235,"y":-0.5},{"x":6.4245,"y":-1.92},{"x":6.425,"y":0.15},{"x":6.4255,"y":-0.01},{"x":6.426,"y":0.88},{"x":6.4265,"y":0.74},{"x":6.427,"y":-0.13},{"x":6.4275,"y":-0.52},{"x":6.428,"y":-0.28},{"x":6.4285,"y":0.12},{"x":6.429,"y":1.31},{"x":6.4305,"y":-2.22},{"x":6.431,"y":-0.66},{"x":6.432,"y":-1.38},{"x":6.433,"y":2.14},{"x":6.4335,"y":-0.81},{"x":6.4345,"y":2.32},{"x":6.435,"y":0.19},{"x":6.4355,"y":-0.53},{"x":6.4365,"y":-0.14},{"x":6.437,"y":0.81},{"x":6.4375,"y":1.89},{"x":6.438,"y":0.67},{"x":6.4385,"y":-0.97},{"x":6.441,"y":-0.97},{"x":6.4395,"y":-0.01},{"x":6.44,"y":1.08},{"x":6.4405,"y":0.93},{"x":6.442,"y":-0.76},{"x":6.443,"y":0.84},{"x":6.4435,"y":0.14},{"x":6.444,"y":1.06},{"x":6.4445,"y":1.24},{"x":6.445,"y":-0.28},{"x":6.446,"y":1.28},{"x":6.4465,"y":-1.34},{"x":6.4475,"y":1.49},{"x":6.448,"y":0.3},{"x":6.4485,"y":0.86},{"x":6.449,"y":1.68},{"x":6.4495,"y":0.35},{"x":6.45,"y":0.73},{"x":6.4505,"y":-0.8},{"x":6.451,"y":0.77},{"x":6.4515,"y":0.61},{"x":6.452,"y":1.14},{"x":6.453,"y":-1.22},{"x":6.4535,"y":1.77},{"x":6.4545,"y":1.0},{"x":6.4555,"y":-0.65},{"x":6.456,"y":0.49},{"x":6.457,"y":-0.32},{"x":6.4575,"y":0.68},{"x":6.458,"y":1.2},{"x":6.4585,"y":0.87},{"x":6.4595,"y":-0.14},{"x":6.46,"y":1.04},{"x":6.4605,"y":0.87},{"x":6.4615,"y":0.98},{"x":6.462,"y":-0.27},{"x":6.4625,"y":0.87},{"x":6.4635,"y":-0.42},{"x":6.4645,"y":0.33},{"x":6.465,"y":0.89},{"x":6.4655,"y":0.89},{"x":6.4657,"y":1.99},{"x":6.4665,"y":2.09},{"x":6.4675,"y":1.39},{"x":6.4685,"y":1.39},{"x":6.47,"y":1.39},{"x":6.468,"y":1.23},{"x":6.469,"y":1.71},{"x":6.4695,"y":1.07},{"x":6.4705,"y":-1.06},{"x":6.4715,"y":-0.39},{"x":6.4725,"y":0.06},{"x":6.473,"y":0.54},{"x":6.474,"y":1.56},{"x":6.4745,"y":-1.06},{"x":6.475,"y":0.73},{"x":6.4755,"y":0.54},{"x":6.4765,"y":-1.42},{"x":6.477,"y":1.08},{"x":6.4775,"y":2.01},{"x":6.478,"y":1.87},{"x":6.4785,"y":1.25},{"x":6.479,"y":0.73},{"x":6.4795,"y":0.08},{"x":6.4805,"y":0.92},{"x":6.481,"y":-1.04},{"x":6.482,"y":-3.09},{"x":6.4825,"y":0.65},{"x":6.4835,"y":0.74},{"x":6.484,"y":-1.39},{"x":6.485,"y":1.42},{"x":6.4855,"y":0.24},{"x":6.486,"y":1.73},{"x":6.4865,"y":-0.52},{"x":6.4885,"y":-0.52},{"x":6.491,"y":-0.52},{"x":6.4875,"y":-0.85},{"x":6.489,"y":1.42},{"x":6.4895,"y":0.93},{"x":6.49,"y":1.58},{"x":6.4915,"y":-1.38},{"x":6.4925,"y":-1.02},{"x":6.493,"y":0.25},{"x":6.4945,"y":0.25},{"x":6.495,"y":1.58},{"x":6.4955,"y":0.57},{"x":6.4985,"y":1.05},{"x":6.4995,"y":-0.46},{"x":6.4997,"y":0.38}],
"D":[{"x":6.2501,"y":1.59},{"x":6.2502,"y":1.43},{"x":6.2503,"y":1.05},{"x":6.2502,"y":0.57},{"x":6.2501,"y":0.25},{"x":6.2507,"y":-0.46},{"x":6.2518,"y":0.38},{"x":6.2525,"y":-0.15},{"x":6.2535,"y":0.27},{"x":6.2545,"y":0.68},{"x":6.255,"y":0.19},{"x":6.256,"y":0.0},{"x":6.257,"y":1.71},{"x":6.2575,"y":1.99},{"x":6.259,"y":1.99},{"x":6.261,"y":1.99},{"x":6.258,"y":-1.43},{"x":6.2595,"y":0.2},{"x":6.26,"y":0.0},{"x":6.2612,"y":0.76},{"x":6.2625,"y":0.76},{"x":6.264,"y":0.76},{"x":6.262,"y":-0.44},{"x":6.2635,"y":0.43},{"x":6.2645,"y":0.58},{"x":6.2655,"y":0.58},{"x":6.2652,"y":1.71},{"x":6.2665,"y":1.26},{"x":6.2685,"y":1.26},{"x":6.267,"y":0.7},{"x":6.268,"y":0.21},{"x":6.2695,"y":0.02},{"x":6.27,"y":2.0},{"x":6.2705,"y":0.94},{"x":6.2715,"y":-1.78},{"x":6.272,"y":-0.58},{"x":6.2735,"y":-0.58},{"x":6.2745,"y":-1.41},{"x":6.2755,"y":0.44},{"x":6.276,"y":1.26},{"x":6.277,"y":1.11},{"x":6.2785,"y":1.11},{"x":6.2775,"y":0.58},{"x":6.2795,"y":0.58},{"x":6.2787,"y":2.14},{"x":6.2797,"y":0.77},{"x":6.28,"y":1.34},{"x":6.281,"y":0.17},{"x":6.282,"y":2.54},{"x":6.2825,"y":0.77},{"x":6.283,"y":0.22},{"x":6.2835,"y":0.95},{"x":6.2845,"y":-0.11},{"x":6.285,"y":1.27},{"x":6.2855,"y":0.59},{"x":6.287,"y":0.59},{"x":6.286,"y":1.87},{"x":6.2853,"y":1.73},{"x":6.2885,"y":1.73},{"x":6.293,"y":1.73},{"x":6.2875,"y":1.46},{"x":6.29,"y":-1.05},{"x":6.2905,"y":0.23},{"x":6.291,"y":1.44},{"x":6.2915,"y":0.78},{"x":6.2925,"y":0.33},{"x":6.2932,"y":0.61},{"x":6.294,"y":-1.04},{"x":6.296,"y":-1.04},{"x":6.295,"y":0.23},{"x":6.2965,"y":-0.55},{"x":6.2975,"y":1.12},{"x":6.2985,"y":0.47},{"x":6.299,"y":0.78},{"x":6.2995,"y":1.28},{"x":6.3005,"y":1.11},{"x":6.301,"y":0.95},{"x":6.3015,"y":0.43},{"x":6.302,"y":0.23},{"x":6.303,"y":0.05},{"x":6.3035,"y":0.79},{"x":6.304,"y":-1.93},{"x":6.3045,"y":0.62},{"x":6.306,"y":0.62},{"x":6.307,"y":0.62},{"x":6.3055,"y":-0.39},{"x":6.3065,"y":1.13},{"x":6.308,"y":1.13},{"x":6.3075,"y":0.43},{"x":6.3082,"y":0.43},{"x":6.309,"y":2.8},{"x":6.3095,"y":2.92},{"x":6.3092,"y":0.62},{"x":6.3105,"y":0.62},{"x":6.3115,"y":0.62},{"x":6.3113,"y":2.03},{"x":6.312,"y":1.13},{"x":6.3125,"y":0.97},{"x":6.3135,"y":0.97},{"x":6.313,"y":1.01},{"x":6.314,"y":0.24},{"x":6.315,"y":1.13},{"x":6.316,"y":1.13},{"x":6.317,"y":1.13},{"x":6.3162,"y":1.75},{"x":6.3168,"y":0.35},{"x":6.3175,"y":0.44},{"x":6.319,"y":0.44},{"x":6.3195,"y":1.6},{"x":6.3205,"y":0.35},{"x":6.321,"y":1.13},{"x":6.3215,"y":2.17},{"x":6.3245,"y":2.17},{"x":6.3265,"y":2.17},{"x":6.322,"y":1.89},{"x":6.3225,"y":2.04},{"x":6.323,"y":0.24},{"x":6.3235,"y":0.43},{"x":6.324,"y":1.29},{"x":6.325,"y":0.07},{"x":6.326,"y":1.75},{"x":6.3268,"y":1.46},{"x":6.327,"y":0.97},{"x":6.328,"y":0.25},{"x":6.3285,"y":0.76},{"x":6.3295,"y":0.63},{"x":6.33,"y":2.81},{"x":6.3305,"y":0.97},{"x":6.3315,"y":0.97},{"x":6.331,"y":2.17},{"x":6.332,"y":0.63},{"x":6.333,"y":1.74},{"x":6.334,"y":1.46},{"x":6.335,"y":1.14},{"x":6.336,"y":1.14},{"x":6.3355,"y":0.81},{"x":6.337,"y":1.76},{"x":6.3375,"y":0.63},{"x":6.338,"y":1.14},{"x":6.339,"y":2.04},{"x":6.3395,"y":1.91},{"x":6.34,"y":2.44},{"x":6.3405,"y":0.25},{"x":6.341,"y":0.45},{"x":6.342,"y":0.97},{"x":6.3418,"y":2.31},{"x":6.346,"y":2.31},{"x":6.3425,"y":2.04},{"x":6.343,"y":1.14},{"x":6.347,"y":1.14},{"x":6.349,"y":1.14},{"x":6.3435,"y":1.61},{"x":6.3445,"y":1.61},{"x":6.3447,"y":3.16},{"x":6.345,"y":1.76},{"x":6.3462,"y":2.7},{"x":6.3472,"y":3.03},{"x":6.3475,"y":1.61},{"x":6.3488,"y":2.04},{"x":6.3495,"y":1.76},{"x":6.35,"y":2.92},{"x":6.3525,"y":2.92},{"x":6.3502,"y":2.7},{"x":6.351,"y":1.91},{"x":6.3515,"y":2.44},{"x":6.352,"y":2.18},{"x":6.353,"y":2.3},{"x":6.354,"y":2.3},{"x":6.355,"y":2.3},{"x":6.356,"y":2.3},{"x":6.3535,"y":1.61},{"x":6.3542,"y":2.05},{"x":6.3552,"y":1.76},{"x":6.3562,"y":2.57},{"x":6.3565,"y":3.61},{"x":6.3585,"y":3.61},{"x":6.358,"y":2.92},{"x":6.3588,"y":3.71},{"x":6.359,"y":3.28},{"x":6.3595,"y":3.82},{"x":6.3625,"y":3.82},{"x":6.3605,"y":3.03},{"x":6.361,"y":2.8},{"x":6.3612,"y":2.18},{"x":6.3627,"y":2.57},{"x":6.363,"y":3.61},{"x":6.364,"y":3.71},{"x":6.3645,"y":2.7},{"x":6.382,"y":3.72},{"x":6.386,"y":4.03},{"x":6.387,"y":3.82},{"x":6.3895,"y":3.82},{"x":6.388,"y":3.92},{"x":6.3897,"y":3.51},{"x":6.389,"y":3.38},{"x":6.3905,"y":3.38},{"x":6.391,"y":3.61},{"x":6.392,"y":3.06},{"x":6.3925,"y":3.06},{"x":6.393,"y":3.17},{"x":6.3945,"y":3.17},{"x":6.3908,"y":2.81},{"x":6.394,"y":2.95},{"x":6.395,"y":2.81},{"x":6.3952,"y":3.38},{"x":6.3955,"y":3.27},{"x":6.3965,"y":2.95},{"x":6.3975,"y":2.95},{"x":6.3985,"y":3.38},{"x":6.4,"y":3.06},{"x":6.401,"y":3.61},{"x":6.3935,"y":2.06},{"x":6.397,"y":2.06},{"x":6.398,"y":2.06},{"x":6.4008,"y":2.06},{"x":6.4035,"y":2.06},{"x":6.399,"y":1.92},{"x":6.4002,"y":1.62},{"x":6.404,"y":1.62},{"x":6.4015,"y":2.33},{"x":6.402,"y":2.83},{"x":6.4055,"y":2.83},{"x":6.4085,"y":2.83},{"x":6.4025,"y":2.46},{"x":6.405,"y":2.46},{"x":6.4038,"y":0.99},{"x":6.4045,"y":1.77},{"x":6.406,"y":2.7},{"x":6.4065,"y":2.58},{"x":6.4095,"y":2.58},{"x":6.4067,"y":0.65},{"x":6.407,"y":2.33},{"x":6.4115,"y":2.33},{"x":6.4125,"y":2.33},{"x":6.408,"y":2.96},{"x":6.409,"y":0.83},{"x":6.41,"y":1.62},{"x":6.413,"y":1.62},{"x":6.411,"y":1.33},{"x":6.4117,"y":2.46},{"x":6.412,"y":0.47},{"x":6.4135,"y":1.92},{"x":6.415,"y":1.92},{"x":6.4137,"y":0.27},{"x":6.4155,"y":1.48},{"x":6.418,"y":1.48},{"x":6.4205,"y":1.48},{"x":6.4235,"y":1.48},{"x":6.4275,"y":1.48},{"x":6.4152,"y":0.82},{"x":6.416,"y":1.05},{"x":6.417,"y":0.65},{"x":6.4185,"y":0.65},{"x":6.4225,"y":0.65},{"x":6.4183,"y":0.99},{"x":6.421,"y":0.99},{"x":6.4255,"y":0.99},{"x":6.419,"y":0.47},{"x":6.4237,"y":0.47},{"x":6.428,"y":0.47},{"x":6.42,"y":1.16},{"x":6.4215,"y":0.11},{"x":6.4245,"y":-0.48},{"x":6.4257,"y":0.82},{"x":6.4285,"y":0.82},{"x":6.426,"y":1.63},{"x":6.427,"y":0.65},{"x":6.4277,"y":0.27},{"x":6.429,"y":1.92},{"x":6.4295,"y":-1.14},{"x":6.4305,"y":0.25},{"x":6.4315,"y":-0.48},{"x":6.432,"y":2.58},{"x":6.433,"y":-0.02},{"x":6.4335,"y":2.71},{"x":6.4345,"y":0.65},{"x":6.435,"y":0.11},{"x":6.4355,"y":0.27},{"x":6.4385,"y":0.27},{"x":6.4425,"y":0.27},{"x":6.4465,"y":0.27},{"x":6.448,"y":0.27},{"x":6.455,"y":0.27},{"x":6.436,"y":1.16},{"x":6.4395,"y":1.16},{"x":6.4428,"y":1.16},{"x":6.4365,"y":2.19},{"x":6.437,"y":0.99},{"x":6.4415,"y":0.99},{"x":6.4375,"y":-0.48},{"x":6.441,"y":-0.48},{"x":6.439,"y":1.33},{"x":6.443,"y":1.33},{"x":6.445,"y":1.33},{"x":6.4405,"y":-0.64},{"x":6.4435,"y":-0.18},{"x":6.4452,"y":-1.31},{"x":6.4455,"y":1.48},{"x":6.4468,"y":0.82},{"x":6.447,"y":1.63},{"x":6.4475,"y":0.65},{"x":6.4495,"y":0.65},{"x":6.4485,"y":-0.97},{"x":6.4505,"y":0.47},{"x":6.451,"y":0.99},{"x":6.4515,"y":-1.49},{"x":6.4525,"y":1.53},{"x":6.4535,"y":0.82},{"x":6.454,"y":-0.97},{"x":6.4555,"y":-0.64},{"x":6.456,"y":0.47},{"x":6.4565,"y":0.99},{"x":6.457,"y":0.65},{"x":6.458,"y":-0.48},{"x":6.4585,"y":0.82},{"x":6.459,"y":0.65},{"x":6.4595,"y":0.65},{"x":6.4605,"y":-0.64},{"x":6.461,"y":0.53},{"x":6.462,"y":-0.81},{"x":6.4635,"y":-0.04},{"x":6.464,"y":0.65},{"x":6.4645,"y":0.65},{"x":6.465,"y":1.77},{"x":6.466,"y":1.77},{"x":6.4665,"y":1.16},{"x":6.4675,"y":1.16},{"x":6.469,"y":1.16},{"x":6.4677,"y":0.99},{"x":6.468,"y":1.48},{"x":6.4692,"y":0.82},{"x":6.4695,"y":-1.5},{"x":6.4735,"y":-1.5},{"x":6.4705,"y":-0.81},{"x":6.4715,"y":-0.34},{"x":6.472,"y":0.27},{"x":6.4745,"y":0.27},{"x":6.4725,"y":1.32},{"x":6.474,"y":0.47},{"x":6.4755,"y":-1.88},{"x":6.476,"y":0.82},{"x":6.4765,"y":1.77},{"x":6.477,"y":1.62},{"x":6.4775,"y":0.99},{"x":6.478,"y":0.47},{"x":6.4785,"y":-0.34},{"x":6.4795,"y":0.65},{"x":6.4805,"y":-1.5},{"x":6.4815,"y":-3.64},{"x":6.4825,"y":0.24},{"x":6.483,"y":0.47},{"x":6.484,"y":-1.88},{"x":6.4845,"y":1.16},{"x":6.4855,"y":-0.19},{"x":6.4865,"y":1.47},{"x":6.4872,"y":-0.98},{"x":6.489,"y":-0.98},{"x":6.4915,"y":-0.98},{"x":6.4877,"y":-1.34},{"x":6.4895,"y":1.16},{"x":6.4905,"y":0.63},{"x":6.491,"y":1.31},{"x":6.4925,"y":-1.89},{"x":6.4935,"y":-1.53},{"x":6.4945,"y":-0.21},{"x":6.496,"y":-0.21},{"x":6.497,"y":1.31},{"x":6.4972,"y":0.26},{"x":6.4975,"y":1.15}],
"E":[{"x":6.25,"y":0.73},{"x":6.251,"y":-0.82},{"x":6.252,"y":0.15},{"x":6.2525,"y":-0.51},{"x":6.2535,"y":-0.05},{"x":6.2555,"y":-0.05},{"x":6.2545,"y":0.35},{"x":6.256,"y":-0.35},{"x":6.257,"y":1.51},{"x":6.2575,"y":1.81},{"x":6.259,"y":1.81},{"x":6.261,"y":1.81},{"x":6.258,"y":-1.81},{"x":6.2595,"y":-0.03},{"x":6.26,"y":-0.33},{"x":6.2612,"y":0.55},{"x":6.2625,"y":0.55},{"x":6.264,"y":0.55},{"x":6.262,"y":-0.78},{"x":6.2635,"y":0.12},{"x":6.265,"y":0.37},{"x":6.2655,"y":1.53},{"x":6.266,"y":0.26},{"x":6.267,"y":1.07},{"x":6.269,"y":1.07},{"x":6.268,"y":0.4},{"x":6.2685,"y":-0.01},{"x":6.27,"y":-0.29},{"x":6.2703,"y":1.83},{"x":6.271,"y":0.74},{"x":6.272,"y":-2.13},{"x":6.2725,"y":-0.89},{"x":6.2735,"y":-0.89},{"x":6.2745,"y":-1.74},{"x":6.2755,"y":0.16},{"x":6.276,"y":1.08},{"x":6.277,"y":0.93},{"x":6.278,"y":0.93},{"x":6.2775,"y":0.31},{"x":6.279,"y":1.98},{"x":6.2795,"y":0.41},{"x":6.28,"y":0.59},{"x":6.2805,"y":1.08},{"x":6.2815,"y":-0.11},{"x":6.282,"y":2.39},{"x":6.283,"y":0.59},{"x":6.2835,"y":0.03},{"x":6.284,"y":0.76},{"x":6.2845,"y":-0.39},{"x":6.2855,"y":1.1},{"x":6.286,"y":0.42},{"x":6.2865,"y":1.57},{"x":6.2895,"y":1.57},{"x":6.287,"y":1.71},{"x":6.2875,"y":0.32},{"x":6.2885,"y":1.22},{"x":6.29,"y":-1.35},{"x":6.2905,"y":0.03},{"x":6.2915,"y":1.26},{"x":6.292,"y":0.6},{"x":6.2925,"y":0.05},{"x":6.2935,"y":0.42},{"x":6.294,"y":1.57},{"x":6.2945,"y":-1.35},{"x":6.296,"y":-1.35},{"x":6.2955,"y":0.04},{"x":6.297,"y":-0.85},{"x":6.2975,"y":0.94},{"x":6.2985,"y":0.18},{"x":6.299,"y":0.59},{"x":6.2995,"y":1.1},{"x":6.3,"y":0.84},{"x":6.301,"y":0.77},{"x":6.3015,"y":0.22},{"x":6.302,"y":0.03},{"x":6.303,"y":-0.25},{"x":6.304,"y":0.59},{"x":6.3045,"y":-2.29},{"x":6.305,"y":0.41},{"x":6.3065,"y":0.41},{"x":6.306,"y":-0.72},{"x":6.3075,"y":0.92},{"x":6.309,"y":0.92},{"x":6.3078,"y":0.21},{"x":6.3092,"y":0.38},{"x":6.3105,"y":0.38},{"x":6.312,"y":0.38},{"x":6.3095,"y":2.62},{"x":6.31,"y":2.74},{"x":6.311,"y":1.83},{"x":6.3118,"y":0.9},{"x":6.313,"y":0.71},{"x":6.314,"y":0.71},{"x":6.3135,"y":0.64},{"x":6.3145,"y":-0.04},{"x":6.315,"y":0.86},{"x":6.316,"y":1.48},{"x":6.317,"y":-0.11},{"x":6.318,"y":0.84},{"x":6.3185,"y":0.09},{"x":6.319,"y":0.09},{"x":6.3195,"y":1.29},{"x":6.3205,"y":-0.18},{"x":6.321,"y":0.78},{"x":6.322,"y":1.84},{"x":6.3225,"y":1.55},{"x":6.323,"y":1.68},{"x":6.3232,"y":-0.18},{"x":6.3235,"y":0.01},{"x":6.324,"y":0.89},{"x":6.325,"y":1.76},{"x":6.327,"y":1.76},{"x":6.3255,"y":-0.64},{"x":6.326,"y":1.31},{"x":6.3268,"y":0.97},{"x":6.328,"y":0.45},{"x":6.3282,"y":3.81},{"x":6.329,"y":-0.36},{"x":6.3295,"y":-0.12},{"x":6.33,"y":-0.02},{"x":6.331,"y":2.28},{"x":6.3315,"y":0.3},{"x":6.3322,"y":0.3},{"x":6.332,"y":1.58},{"x":6.333,"y":-0.45},{"x":6.334,"y":0.7},{"x":6.3345,"y":0.7},{"x":6.3355,"y":0.34},{"x":6.336,"y":0.34},{"x":6.3365,"y":-0.06},{"x":6.337,"y":0.47},{"x":6.3375,"y":0.94},{"x":6.338,"y":-0.32},{"x":6.3385,"y":-0.22},{"x":6.339,"y":1.17},{"x":6.3398,"y":0.99},{"x":6.3402,"y":1.56},{"x":6.3408,"y":-0.87},{"x":6.3412,"y":-0.68},{"x":6.342,"y":-0.11},{"x":6.3422,"y":1.34},{"x":6.343,"y":1.01},{"x":6.3435,"y":-0.01},{"x":6.344,"y":0.47},{"x":6.3445,"y":0.47},{"x":6.3448,"y":2.15},{"x":6.3452,"y":0.57},{"x":6.346,"y":1.16},{"x":6.3462,"y":1.55},{"x":6.347,"y":-0.25},{"x":6.3475,"y":-0.25},{"x":6.3473,"y":1.9},{"x":6.348,"y":-0.36},{"x":6.349,"y":0.22},{"x":6.3492,"y":0.64},{"x":6.3497,"y":0.28},{"x":6.35,"y":1.57},{"x":6.3505,"y":1.26},{"x":6.351,"y":0.32},{"x":6.3515,"y":0.89},{"x":6.352,"y":0.54},{"x":6.3525,"y":1.38},{"x":6.353,"y":0.61},{"x":6.354,"y":-0.28},{"x":6.3555,"y":-0.28},{"x":6.3545,"y":0.18},{"x":6.355,"y":0.44},{"x":6.3558,"y":0.32},{"x":6.356,"y":0.18},{"x":6.3565,"y":0.56},{"x":6.357,"y":1.64},{"x":6.358,"y":1.64},{"x":6.3582,"y":0.78},{"x":6.359,"y":1.02},{"x":6.3595,"y":1.33},{"x":6.36,"y":1.49},{"x":6.3605,"y":0.43},{"x":6.361,"y":0.01},{"x":6.3615,"y":-0.96},{"x":6.362,"y":2.31},{"x":6.3625,"y":-0.77},{"x":6.363,"y":0.69},{"x":6.3635,"y":0.24},{"x":6.364,"y":0.98},{"x":6.3643,"y":-0.01},{"x":6.3647,"y":-1.64},{"x":6.365,"y":1.14},{"x":6.3655,"y":1.29},{"x":6.366,"y":-0.14},{"x":6.3665,"y":-0.07},{"x":6.367,"y":0.87},{"x":6.368,"y":0.71},{"x":6.369,"y":0.71},{"x":6.3685,"y":1.15},{"x":6.3695,"y":-0.39},{"x":6.37,"y":-0.88},{"x":6.3705,"y":-0.02},{"x":6.371,"y":2.31},{"x":6.3715,"y":1.06},{"x":6.372,"y":0.71},{"x":6.3725,"y":-0.02},{"x":6.373,"y":-0.67},{"x":6.3735,"y":-0.04},{"x":6.374,"y":-0.44},{"x":6.3745,"y":1.06},{"x":6.375,"y":0.22},{"x":6.3755,"y":-0.36},{"x":6.376,"y":1.47},{"x":6.3765,"y":-1.59},{"x":6.377,"y":-1.71},{"x":6.3775,"y":-0.82},{"x":6.379,"y":-0.82},{"x":6.381,"y":-0.82},{"x":6.378,"y":-0.52},{"x":6.3785,"y":-0.25},{"x":6.3795,"y":0.05},{"x":6.38,"y":-2.13},{"x":6.3812,"y":-1.95},{"x":6.3815,"y":-0.49},{"x":6.382,"y":-2.02},{"x":6.3825,"y":-3.38},{"x":6.383,"y":-2.31},{"x":6.3835,"y":-1.18},{"x":6.3845,"y":-1.18},{"x":6.384,"y":-0.57},{"x":6.385,"y":0.43},{"x":6.3855,"y":1.06},{"x":6.386,"y":-1.88},{"x":6.3865,"y":0.14},{"x":6.387,"y":-0.54},{"x":6.3872,"y":-1.03},{"x":6.3875,"y":0.03},{"x":6.388,"y":-0.2},{"x":6.3885,"y":-0.62},{"x":6.389,"y":0.24},{"x":6.3895,"y":0.07},{"x":6.39,"y":-0.4},{"x":6.3905,"y":0.18},{"x":6.391,"y":0.81},{"x":6.3915,"y":0.27},{"x":6.392,"y":0.43},{"x":6.3925,"y":-0.69},{"x":6.3935,"y":0.84},{"x":6.394,"y":0.68},{"x":6.3945,"y":0.74},{"x":6.395,"y":1.06},{"x":6.3955,"y":1.54},{"x":6.396,"y":1.48},{"x":6.3965,"y":0.1},{"x":6.397,"y":1.24},{"x":6.3975,"y":1.31},{"x":6.398,"y":0.33},{"x":6.3985,"y":0.33},{"x":6.3983,"y":1.97},{"x":6.3995,"y":0.05},{"x":6.4,"y":1.75},{"x":6.4005,"y":0.66},{"x":6.401,"y":2.46},{"x":6.4015,"y":1.07},{"x":6.402,"y":1.68},{"x":6.4025,"y":1.31},{"x":6.403,"y":0.91},{"x":6.4035,"y":0.47},{"x":6.404,"y":-0.19},{"x":6.4045,"y":0.72},{"x":6.405,"y":1.51},{"x":6.4055,"y":1.95},{"x":6.406,"y":1.71},{"x":6.4065,"y":1.89},{"x":6.407,"y":-0.33},{"x":6.4075,"y":1.53},{"x":6.408,"y":2.23},{"x":6.4085,"y":2.13},{"x":6.409,"y":-0.01},{"x":6.4095,"y":1.92},{"x":6.41,"y":0.93},{"x":6.4105,"y":1.69},{"x":6.411,"y":0.65},{"x":6.4115,"y":1.88},{"x":6.412,"y":-0.21},{"x":6.4125,"y":1.79},{"x":6.413,"y":1.08},{"x":6.4135,"y":1.43},{"x":6.4145,"y":1.43},{"x":6.414,"y":-0.31},{"x":6.415,"y":0.33},{"x":6.4155,"y":1.03},{"x":6.416,"y":0.42},{"x":6.417,"y":0.24},{"x":6.4175,"y":0.24},{"x":6.4178,"y":1.12},{"x":6.4185,"y":0.65},{"x":6.419,"y":0.12},{"x":6.4195,"y":0.33},{"x":6.42,"y":1.21},{"x":6.4205,"y":0.91},{"x":6.421,"y":0.76},{"x":6.4215,"y":-0.23},{"x":6.422,"y":0.46},{"x":6.4225,"y":1.31},{"x":6.423,"y":0.32},{"x":6.4235,"y":0.32},{"x":6.4245,"y":-0.67},{"x":6.425,"y":0.91},{"x":6.4255,"y":0.75},{"x":6.426,"y":1.57},{"x":6.4265,"y":1.43},{"x":6.427,"y":0.62},{"x":6.4275,"y":0.25},{"x":6.428,"y":0.45},{"x":6.4285,"y":0.83},{"x":6.429,"y":1.93},{"x":6.4305,"y":-1.09},{"x":6.431,"y":0.34},{"x":6.432,"y":-0.36},{"x":6.433,"y":2.67},{"x":6.4335,"y":0.15},{"x":6.4345,"y":2.82},{"x":6.435,"y":0.8},{"x":6.4355,"y":0.37},{"x":6.4365,"y":0.47},{"x":6.437,"y":1.35},{"x":6.4375,"y":2.37},{"x":6.438,"y":1.21},{"x":6.4385,"y":-0.14},{"x":6.4395,"y":0.52},{"x":6.44,"y":1.54},{"x":6.4405,"y":1.38},{"x":6.441,"y":-0.26},{"x":6.442,"y":-0.1},{"x":6.443,"y":1.24},{"x":6.4435,"y":0.54},{"x":6.444,"y":1.4},{"x":6.4445,"y":1.56},{"x":6.446,"y":1.56},{"x":6.445,"y":0.21},{"x":6.4465,"y":-0.88},{"x":6.4475,"y":1.72},{"x":6.448,"y":0.55},{"x":6.4495,"y":0.55},{"x":6.4485,"y":1.08},{"x":6.449,"y":1.87},{"x":6.4505,"y":0.92},{"x":6.452,"y":0.92},{"x":6.4508,"y":-0.54},{"x":6.4515,"y":0.74},{"x":6.4522,"y":1.25},{"x":6.453,"y":-1.04},{"x":6.4535,"y":1.89},{"x":6.4545,"y":1.09},{"x":6.4555,"y":-0.53},{"x":6.456,"y":0.56},{"x":6.457,"y":-0.21},{"x":6.4575,"y":0.75},{"x":6.458,"y":1.26},{"x":6.4585,"y":0.92},{"x":6.4595,"y":-0.05},{"x":6.46,"y":1.08},{"x":6.4615,"y":1.08},{"x":6.4605,"y":0.93},{"x":6.462,"y":-0.21},{"x":6.4625,"y":0.94},{"x":6.4635,"y":-0.36},{"x":6.4645,"y":0.39},{"x":6.465,"y":0.94},{"x":6.4655,"y":0.94},{"x":6.4657,"y":2.03},{"x":6.4665,"y":2.13},{"x":6.4675,"y":1.43},{"x":6.4685,"y":1.43},{"x":6.47,"y":1.43},{"x":6.468,"y":1.27},{"x":6.469,"y":1.74},{"x":6.4695,"y":1.11},{"x":6.4705,"y":-1.01},{"x":6.4715,"y":-0.35},{"x":6.4725,"y":0.11},{"x":6.473,"y":0.57},{"x":6.474,"y":1.59},{"x":6.4745,"y":-1.01},{"x":6.475,"y":0.76},{"x":6.4755,"y":0.57},{"x":6.4765,"y":-1.37},{"x":6.477,"y":1.11},{"x":6.4775,"y":2.04},{"x":6.478,"y":1.89},{"x":6.4785,"y":1.28},{"x":6.479,"y":0.76},{"x":6.4795,"y":0.12},{"x":6.4805,"y":0.93},{"x":6.481,"y":-1.0},{"x":6.482,"y":-3.05},{"x":6.4825,"y":0.68},{"x":6.4835,"y":0.76},{"x":6.484,"y":-1.36},{"x":6.485,"y":1.44},{"x":6.4855,"y":0.27},{"x":6.486,"y":1.75},{"x":6.4865,"y":-0.49},{"x":6.489,"y":-0.49},{"x":6.491,"y":-0.49},{"x":6.4875,"y":-0.83},{"x":6.4892,"y":1.44},{"x":6.4895,"y":0.95},{"x":6.49,"y":1.6},{"x":6.4915,"y":-1.36},{"x":6.4925,"y":-1.0},{"x":6.493,"y":0.27},{"x":6.4945,"y":0.27},{"x":6.496,"y":1.28},{"x":6.4965,"y":0.58},{"x":6.4995,"y":-0.2}],
"F":[{"x":6.2502,"y":1.6},{"x":6.2503,"y":1.29},{"x":6.2502,"y":0.58},{"x":6.2501,"y":0.27},{"x":6.251,"y":-0.2},{"x":6.2518,"y":0.55},{"x":6.2525,"y":0.1},{"x":6.2535,"y":0.53},{"x":6.2545,"y":0.92},{"x":6.255,"y":0.37},{"x":6.256,"y":0.26},{"x":6.257,"y":1.86},{"x":6.2575,"y":2.14},{"x":6.259,"y":2.14},{"x":6.261,"y":2.14},{"x":6.258,"y":-1.14},{"x":6.2595,"y":0.38},{"x":6.26,"y":0.27},{"x":6.2612,"y":0.94},{"x":6.2625,"y":0.94},{"x":6.264,"y":0.94},{"x":6.262,"y":-0.16},{"x":6.2635,"y":0.7},{"x":6.2645,"y":0.8},{"x":6.2655,"y":0.8},{"x":6.2652,"y":1.89},{"x":6.2665,"y":1.45},{"x":6.2685,"y":1.45},{"x":6.267,"y":0.97},{"x":6.268,"y":0.41},{"x":6.2695,"y":0.32},{"x":6.27,"y":2.18},{"x":6.2705,"y":1.13},{"x":6.2715,"y":-1.44},{"x":6.272,"y":-0.26},{"x":6.2735,"y":-0.26},{"x":6.2745,"y":-1.07},{"x":6.2755,"y":0.74},{"x":6.276,"y":1.47},{"x":6.277,"y":1.31},{"x":6.2785,"y":1.31},{"x":6.2775,"y":0.88},{"x":6.2787,"y":2.33},{"x":6.2795,"y":0.81},{"x":6.28,"y":0.98},{"x":6.2805,"y":1.64},{"x":6.281,"y":0.49},{"x":6.282,"y":2.72},{"x":6.2825,"y":0.98},{"x":6.283,"y":0.45},{"x":6.2835,"y":1.15},{"x":6.2845,"y":0.22},{"x":6.285,"y":1.48},{"x":6.2855,"y":0.82},{"x":6.286,"y":1.93},{"x":6.289,"y":1.93},{"x":6.2935,"y":1.93},{"x":6.2865,"y":2.06},{"x":6.288,"y":1.76},{"x":6.29,"y":-0.69},{"x":6.2945,"y":-0.69},{"x":6.2965,"y":-0.69},{"x":6.2905,"y":0.45},{"x":6.291,"y":1.64},{"x":6.2915,"y":0.99},{"x":6.292,"y":0.64},{"x":6.293,"y":0.82},{"x":6.295,"y":0.45},{"x":6.2968,"y":-0.23},{"x":6.2975,"y":1.32},{"x":6.2985,"y":0.77},{"x":6.299,"y":0.99},{"x":6.2995,"y":1.48},{"x":6.3005,"y":1.39},{"x":6.301,"y":1.16},{"x":6.3015,"y":0.63},{"x":6.302,"y":0.44},{"x":6.303,"y":0.35},{"x":6.3035,"y":0.98},{"x":6.304,"y":-1.59},{"x":6.3045,"y":0.81},{"x":6.306,"y":0.81},{"x":6.3055,"y":-0.09},{"x":6.3065,"y":1.3},{"x":6.3085,"y":1.3},{"x":6.3075,"y":0.62},{"x":6.308,"y":0.62},{"x":6.309,"y":2.94},{"x":6.3095,"y":3.06},{"x":6.3092,"y":0.79},{"x":6.3105,"y":0.79},{"x":6.3115,"y":0.79},{"x":6.3113,"y":2.17},{"x":6.312,"y":1.28},{"x":6.3125,"y":1.1},{"x":6.314,"y":1.1},{"x":6.313,"y":1.19},{"x":6.3142,"y":0.37},{"x":6.315,"y":1.23},{"x":6.316,"y":1.23},{"x":6.317,"y":1.23},{"x":6.3162,"y":1.84},{"x":6.3172,"y":0.48},{"x":6.318,"y":0.48},{"x":6.319,"y":0.48},{"x":6.3195,"y":1.64},{"x":6.3205,"y":0.39},{"x":6.321,"y":1.14},{"x":6.3215,"y":2.17},{"x":6.322,"y":1.89},{"x":6.3225,"y":2.02},{"x":6.323,"y":0.21},{"x":6.3235,"y":0.39},{"x":6.324,"y":1.24},{"x":6.3245,"y":2.13},{"x":6.325,"y":-0.07},{"x":6.326,"y":1.64},{"x":6.3265,"y":2.06},{"x":6.3268,"y":1.31},{"x":6.327,"y":0.8},{"x":6.328,"y":4.06},{"x":6.3282,"y":0.02},{"x":6.3285,"y":0.4},{"x":6.3295,"y":0.34},{"x":6.33,"y":2.56},{"x":6.3305,"y":0.63},{"x":6.3315,"y":0.63},{"x":6.331,"y":1.87},{"x":6.332,"y":0.04},{"x":6.333,"y":1.14},{"x":6.334,"y":1.02},{"x":6.335,"y":0.65},{"x":6.3355,"y":0.65},{"x":6.3357,"y":0.26},{"x":6.336,"y":0.77},{"x":6.3365,"y":1.22},{"x":6.3375,"y":0.01},{"x":6.338,"y":0.22},{"x":6.339,"y":1.43},{"x":6.3395,"y":1.27},{"x":6.34,"y":1.82},{"x":6.3405,"y":-0.55},{"x":6.341,"y":-0.37},{"x":6.3415,"y":0.18},{"x":6.342,"y":1.58},{"x":6.3425,"y":1.26},{"x":6.343,"y":0.27},{"x":6.3435,"y":0.73},{"x":6.344,"y":0.73},{"x":6.3445,"y":2.37},{"x":6.345,"y":0.81},{"x":6.3455,"y":1.39},{"x":6.346,"y":1.78},{"x":6.3465,"y":0.04},{"x":6.347,"y":2.11},{"x":6.3475,"y":-0.04},{"x":6.348,"y":0.48},{"x":6.349,"y":0.48},{"x":6.3505,"y":0.48},{"x":6.3485,"y":-0.12},{"x":6.3492,"y":0.84},{"x":6.35,"y":1.76},{"x":6.3503,"y":1.46},{"x":6.351,"y":0.64},{"x":6.352,"y":1.07},{"x":6.3525,"y":0.76},{"x":6.353,"y":1.54},{"x":6.3535,"y":0.78},{"x":6.354,"y":-0.11},{"x":6.3555,"y":-0.11},{"x":6.3545,"y":0.35},{"x":6.355,"y":0.59},{"x":6.356,"y":0.69},{"x":6.3565,"y":0.47},{"x":6.357,"y":0.31},{"x":6.3575,"y":1.73},{"x":6.3585,"y":1.73},{"x":6.358,"y":0.87},{"x":6.359,"y":1.09},{"x":6.3595,"y":1.39},{"x":6.36,"y":1.54},{"x":6.3605,"y":0.47},{"x":6.361,"y":0.04},{"x":6.3615,"y":-0.94},{"x":6.362,"y":2.29},{"x":6.3625,"y":-0.79},{"x":6.363,"y":0.66},{"x":6.3635,"y":0.18},{"x":6.364,"y":0.91},{"x":6.3645,"y":-0.11},{"x":6.365,"y":-1.78},{"x":6.3655,"y":1.0},{"x":6.366,"y":1.14},{"x":6.3665,"y":-0.3},{"x":6.367,"y":-0.3},{"x":6.3672,"y":0.66},{"x":6.368,"y":0.92},{"x":6.3685,"y":0.47},{"x":6.369,"y":0.47},{"x":6.3695,"y":-0.67},{"x":6.37,"y":-1.18},{"x":6.3705,"y":-0.31},{"x":6.371,"y":2.05},{"x":6.3715,"y":0.78},{"x":6.372,"y":0.43},{"x":6.3725,"y":-0.32},{"x":6.3735,"y":-0.32},{"x":6.373,"y":-0.98},{"x":6.3745,"y":-0.76},{"x":6.375,"y":0.78},{"x":6.3755,"y":-0.09},{"x":6.376,"y":-0.68},{"x":6.3765,"y":1.17},{"x":6.377,"y":-2.08},{"x":6.3775,"y":-1.98},{"x":6.378,"y":-0.92},{"x":6.3785,"y":-1.22},{"x":6.379,"y":-0.67},{"x":6.3795,"y":-1.26},{"x":6.38,"y":-0.38},{"x":6.3802,"y":-2.64},{"x":6.381,"y":-1.31},{"x":6.3812,"y":-2.48},{"x":6.3815,"y":-0.99},{"x":6.382,"y":-2.56},{"x":6.383,"y":-3.95},{"x":6.3835,"y":-2.83},{"x":6.384,"y":-1.64},{"x":6.385,"y":-1.64},{"x":6.3845,"y":-1.02},{"x":6.3855,"y":0.06},{"x":6.386,"y":0.73},{"x":6.3865,"y":-2.24},{"x":6.387,"y":-0.15},{"x":6.388,"y":-0.15},{"x":6.3875,"y":-0.79},{"x":6.3882,"y":-1.26},{"x":6.3885,"y":-0.36},{"x":6.389,"y":-0.75},{"x":6.3895,"y":0.15},{"x":6.39,"y":-0.01},{"x":6.3905,"y":0.11},{"x":6.391,"y":-0.42},{"x":6.3915,"y":0.81},{"x":6.392,"y":0.31},{"x":6.3925,"y":0.47},{"x":6.393,"y":-0.64},{"x":6.3935,"y":0.92},{"x":6.394,"y":0.77},{"x":6.3945,"y":1.17},{"x":6.395,"y":0.87},{"x":6.3955,"y":1.63},{"x":6.396,"y":1.63},{"x":6.3965,"y":0.26},{"x":6.397,"y":1.39},{"x":6.3975,"y":1.47},{"x":6.398,"y":0.52},{"x":6.399,"y":0.52},{"x":6.3985,"y":2.13},{"x":6.3995,"y":0.27},{"x":6.4,"y":1.96},{"x":6.4005,"y":0.89},{"x":6.401,"y":2.66},{"x":6.4015,"y":1.29},{"x":6.402,"y":1.91},{"x":6.4025,"y":1.55},{"x":6.403,"y":1.16},{"x":6.4035,"y":0.74},{"x":6.404,"y":0.1},{"x":6.4045,"y":0.99},{"x":6.405,"y":1.77},{"x":6.4055,"y":2.21},{"x":6.406,"y":1.98},{"x":6.4065,"y":2.15},{"x":6.407,"y":-0.01},{"x":6.4075,"y":1.82},{"x":6.408,"y":2.49},{"x":6.4085,"y":2.41},{"x":6.409,"y":0.34},{"x":6.4095,"y":2.19},{"x":6.41,"y":1.24},{"x":6.4105,"y":1.99},{"x":6.411,"y":0.99},{"x":6.4115,"y":2.18},{"x":6.412,"y":0.16},{"x":6.4125,"y":2.11},{"x":6.413,"y":1.42},{"x":6.4135,"y":1.71},{"x":6.4145,"y":1.71},{"x":6.414,"y":0.09},{"x":6.415,"y":0.71},{"x":6.4155,"y":1.39},{"x":6.416,"y":0.96},{"x":6.417,"y":0.68},{"x":6.4175,"y":0.68},{"x":6.4178,"y":1.48},{"x":6.4185,"y":1.04},{"x":6.419,"y":0.54},{"x":6.4195,"y":0.75},{"x":6.42,"y":1.58},{"x":6.4205,"y":1.3},{"x":6.421,"y":1.16},{"x":6.4215,"y":0.41},{"x":6.422,"y":0.88},{"x":6.4225,"y":1.71},{"x":6.423,"y":0.75},{"x":6.4235,"y":0.75},{"x":6.4245,"y":0.01},{"x":6.425,"y":1.33},{"x":6.4255,"y":1.18},{"x":6.426,"y":1.97},{"x":6.4265,"y":1.84},{"x":6.427,"y":1.06},{"x":6.4275,"y":0.72},{"x":6.428,"y":0.91},{"x":6.4285,"y":1.27},{"x":6.429,"y":2.33},{"x":6.4295,"y":-0.35},{"x":6.4305,"y":1.02},{"x":6.4315,"y":0.36},{"x":6.432,"y":3.04},{"x":6.433,"y":0.85},{"x":6.4335,"y":3.2},{"x":6.434,"y":1.27},{"x":6.435,"y":1.07},{"x":6.4355,"y":0.96},{"x":6.436,"y":1.8},{"x":6.4365,"y":2.77},{"x":6.437,"y":1.66},{"x":6.4375,"y":0.62},{"x":6.438,"y":1.02},{"x":6.4385,"y":1.98},{"x":6.439,"y":1.84},{"x":6.4395,"y":0.51},{"x":6.4405,"y":0.66},{"x":6.441,"y":1.71},{"x":6.442,"y":1.05},{"x":6.4425,"y":1.86},{"x":6.443,"y":2.02},{"x":6.4445,"y":2.02},{"x":6.4435,"y":0.95},{"x":6.445,"y":-0.08},{"x":6.4455,"y":2.16},{"x":6.446,"y":1.06},{"x":6.4475,"y":1.06},{"x":6.4465,"y":1.56},{"x":6.447,"y":2.31},{"x":6.448,"y":1.41},{"x":6.449,"y":1.41},{"x":6.4505,"y":0.26},{"x":6.4515,"y":1.24},{"x":6.452,"y":1.73},{"x":6.453,"y":-0.22},{"x":6.4545,"y":2.56},{"x":6.455,"y":1.57},{"x":6.456,"y":0.26},{"x":6.4565,"y":1.07},{"x":6.4575,"y":0.57},{"x":6.458,"y":1.25},{"x":6.4583,"y":1.74},{"x":6.4587,"y":1.42},{"x":6.461,"y":1.42},{"x":6.4595,"y":0.72},{"x":6.46,"y":1.58},{"x":6.4612,"y":1.78},{"x":6.462,"y":0.58},{"x":6.4625,"y":1.65},{"x":6.4635,"y":0.44},{"x":6.4645,"y":1.15},{"x":6.4652,"y":1.43},{"x":6.4656,"y":2.47},{"x":6.4665,"y":2.79},{"x":6.4675,"y":1.91},{"x":6.4685,"y":1.91},{"x":6.4695,"y":1.91},{"x":6.468,"y":1.75},{"x":6.4688,"y":2.2},{"x":6.469,"y":1.6},{"x":6.4697,"y":-0.17},{"x":6.4705,"y":0.46},{"x":6.4715,"y":0.88},{"x":6.4725,"y":1.09},{"x":6.4745,"y":1.09},{"x":6.473,"y":2.06},{"x":6.4735,"y":-0.16},{"x":6.474,"y":1.27},{"x":6.475,"y":-0.5},{"x":6.4755,"y":1.61},{"x":6.476,"y":2.48},{"x":6.4765,"y":2.35},{"x":6.477,"y":1.77},{"x":6.4775,"y":1.27},{"x":6.478,"y":0.9},{"x":6.479,"y":1.45},{"x":6.4795,"y":-0.15},{"x":6.4805,"y":-2.06},{"x":6.4815,"y":1.44},{"x":6.482,"y":1.28},{"x":6.483,"y":-0.48},{"x":6.484,"y":1.92},{"x":6.4845,"y":1.05},{"x":6.485,"y":2.22},{"x":6.4855,"y":0.34},{"x":6.488,"y":0.34},{"x":6.49,"y":0.34},{"x":6.4865,"y":0.03},{"x":6.4882,"y":1.93},{"x":6.4885,"y":1.46},{"x":6.4895,"y":2.07},{"x":6.4905,"y":-0.47},{"x":6.4915,"y":-0.13},{"x":6.4935,"y":1.06},{"x":6.4945,"y":1.06},{"x":6.4955,"y":2.08},{"x":6.4965,"y":1.12},{"x":6.497,"y":1.97}]
},
"concat":[
{"width":555,"height":552,"resolve":{"axis":{"x":"independent","y":"independent"}},"layer":[
 {"data":{"values":[{"z":0}]},"mark":{"type":"rule","color":"#ff0000","strokeWidth":2.5},"encoding":{"y":{"field":"z","type":"quantitative","scale":{"domain":[-4.115,4.115],"nice":false,"zero":false},"axis":null}}},
 {"data":{"name":"A"},"mark":{"type":"circle","size":18,"color":"black","opacity":1,"clip":true},"encoding":{"x":{"field":"x","type":"quantitative","scale":{"domain":[6.25,6.5],"nice":false,"zero":false},"axis":{"orient":"bottom","values":[6.25,6.3,6.35,6.4,6.45,6.5],"labels":false,"title":null}},"y":{"field":"y","type":"quantitative","scale":{"domain":[-4.115,4.115],"nice":false,"zero":false},"axis":{"orient":"left","values":[-4,-3,-2,-1,0,1,2,3,4],"labelPadding":13,"title":["d\u0332a\u0332t\u0332a\u0332 \u0332\u2212\u0332 \u0332m\u0332o\u0332d\u0332e\u0332l\u0332","error"],"titleFontSize":17,"titleLineHeight":14,"titlePadding":7}}}},
 {"data":{"values":[{"label":"XWINDFE + MYTORUS"}]},"mark":{"type":"text","font":"Liberation Serif","fontSize":24,"align":"left","baseline":"alphabetic","color":"black"},"encoding":{"text":{"field":"label"},"x":{"datum":6.263,"type":"quantitative","axis":{"orient":"top","values":[6.25,6.3,6.35,6.4,6.45,6.5],"labels":false,"title":null}},"y":{"datum":3.43,"type":"quantitative","axis":{"orient":"right","values":[-4,-3,-2,-1,0,1,2,3,4],"labels":false,"title":null}}}}
]},
{"width":555,"height":552,"resolve":{"axis":{"x":"independent","y":"independent"}},"layer":[
 {"data":{"values":[{"z":0}]},"mark":{"type":"rule","color":"#ff0000","strokeWidth":2.5},"encoding":{"y":{"field":"z","type":"quantitative","scale":{"domain":[-4.115,4.115],"nice":false,"zero":false},"axis":null}}},
 {"data":{"name":"B"},"mark":{"type":"circle","size":18,"color":"black","opacity":1,"clip":true},"encoding":{"x":{"field":"x","type":"quantitative","scale":{"domain":[6.25,6.5],"nice":false,"zero":false},"axis":{"orient":"bottom","values":[6.25,6.3,6.35,6.4,6.45,6.5],"labels":false,"title":null}},"y":{"field":"y","type":"quantitative","scale":{"domain":[-4.115,4.115],"nice":false,"zero":false},"axis":{"orient":"left","values":[-4,-3,-2,-1,0,1,2,3,4],"labels":false,"title":null}}}},
 {"data":{"values":[{"label":"XWINDFE"}]},"mark":{"type":"text","font":"Liberation Serif","fontSize":24,"align":"left","baseline":"alphabetic","color":"black"},"encoding":{"text":{"field":"label"},"x":{"datum":6.263,"type":"quantitative","axis":{"orient":"top","values":[6.25,6.3,6.35,6.4,6.45,6.5],"labels":false,"title":null}},"y":{"datum":3.43,"type":"quantitative","axis":{"orient":"right","values":[-4,-3,-2,-1,0,1,2,3,4],"labels":false,"title":null}}}}
]},
{"width":555,"height":552,"resolve":{"axis":{"x":"independent","y":"independent"}},"layer":[
 {"data":{"values":[{"z":0}]},"mark":{"type":"rule","color":"#ff0000","strokeWidth":2.5},"encoding":{"y":{"field":"z","type":"quantitative","scale":{"domain":[-4.115,4.115],"nice":false,"zero":false},"axis":null}}},
 {"data":{"name":"C"},"mark":{"type":"circle","size":18,"color":"black","opacity":1,"clip":true},"encoding":{"x":{"field":"x","type":"quantitative","scale":{"domain":[6.25,6.5],"nice":false,"zero":false},"axis":{"orient":"bottom","values":[6.25,6.3,6.35,6.4,6.45,6.5],"labels":false,"title":null}},"y":{"field":"y","type":"quantitative","scale":{"domain":[-4.115,4.115],"nice":false,"zero":false},"axis":{"orient":"left","values":[-4,-3,-2,-1,0,1,2,3,4],"labelPadding":13,"title":["d\u0332a\u0332t\u0332a\u0332 \u0332\u2212\u0332 \u0332m\u0332o\u0332d\u0332e\u0332l\u0332","error"],"titleFontSize":17,"titleLineHeight":14,"titlePadding":7}}}},
 {"data":{"values":[{"label":"XWINDFE + DISKLINE"}]},"mark":{"type":"text","font":"Liberation Serif","fontSize":24,"align":"left","baseline":"alphabetic","color":"black"},"encoding":{"text":{"field":"label"},"x":{"datum":6.263,"type":"quantitative","axis":{"orient":"top","values":[6.25,6.3,6.35,6.4,6.45,6.5],"labels":false,"title":null}},"y":{"datum":3.43,"type":"quantitative","axis":{"orient":"right","values":[-4,-3,-2,-1,0,1,2,3,4],"labels":false,"title":null}}}}
]},
{"width":555,"height":552,"resolve":{"axis":{"x":"independent","y":"independent"}},"layer":[
 {"data":{"values":[{"z":0}]},"mark":{"type":"rule","color":"#ff0000","strokeWidth":2.5},"encoding":{"y":{"field":"z","type":"quantitative","scale":{"domain":[-4.115,4.115],"nice":false,"zero":false},"axis":null}}},
 {"data":{"name":"D"},"mark":{"type":"circle","size":18,"color":"black","opacity":1,"clip":true},"encoding":{"x":{"field":"x","type":"quantitative","scale":{"domain":[6.25,6.5],"nice":false,"zero":false},"axis":{"orient":"bottom","values":[6.25,6.3,6.35,6.4,6.45,6.5],"labels":false,"title":null}},"y":{"field":"y","type":"quantitative","scale":{"domain":[-4.115,4.115],"nice":false,"zero":false},"axis":{"orient":"left","values":[-4,-3,-2,-1,0,1,2,3,4],"labels":false,"title":null}}}},
 {"data":{"values":[{"label":"DISKLINE"}]},"mark":{"type":"text","font":"Liberation Serif","fontSize":24,"align":"left","baseline":"alphabetic","color":"black"},"encoding":{"text":{"field":"label"},"x":{"datum":6.263,"type":"quantitative","axis":{"orient":"top","values":[6.25,6.3,6.35,6.4,6.45,6.5],"labels":false,"title":null}},"y":{"datum":3.43,"type":"quantitative","axis":{"orient":"right","values":[-4,-3,-2,-1,0,1,2,3,4],"labels":false,"title":null}}}}
]},
{"width":555,"height":552,"resolve":{"axis":{"x":"independent","y":"independent"}},"layer":[
 {"data":{"values":[{"z":0}]},"mark":{"type":"rule","color":"#ff0000","strokeWidth":2.5},"encoding":{"y":{"field":"z","type":"quantitative","scale":{"domain":[-4.115,4.115],"nice":false,"zero":false},"axis":null}}},
 {"data":{"name":"E"},"mark":{"type":"circle","size":18,"color":"black","opacity":1,"clip":true},"encoding":{"x":{"field":"x","type":"quantitative","scale":{"domain":[6.25,6.5],"nice":false,"zero":false},"axis":{"orient":"bottom","values":[6.25,6.3,6.35,6.4,6.45,6.5],"format":".2f","labelPadding":12,"title":"Observed Energy\u00a0\u00a0\u00a0(keV)","titleFontSize":24,"titlePadding":4}},"y":{"field":"y","type":"quantitative","scale":{"domain":[-4.115,4.115],"nice":false,"zero":false},"axis":{"orient":"left","values":[-4,-3,-2,-1,0,1,2,3,4],"labelPadding":13,"title":["d\u0332a\u0332t\u0332a\u0332 \u0332\u2212\u0332 \u0332m\u0332o\u0332d\u0332e\u0332l\u0332","error"],"titleFontSize":17,"titleLineHeight":14,"titlePadding":7}}}},
 {"data":{"values":[{"label":"MYTORUS + DISKLINE"}]},"mark":{"type":"text","font":"Liberation Serif","fontSize":24,"align":"left","baseline":"alphabetic","color":"black"},"encoding":{"text":{"field":"label"},"x":{"datum":6.263,"type":"quantitative","axis":{"orient":"top","values":[6.25,6.3,6.35,6.4,6.45,6.5],"labels":false,"title":null}},"y":{"datum":3.43,"type":"quantitative","axis":{"orient":"right","values":[-4,-3,-2,-1,0,1,2,3,4],"labels":false,"title":null}}}}
]},
{"width":555,"height":552,"resolve":{"axis":{"x":"independent","y":"independent"}},"layer":[
 {"data":{"values":[{"z":0}]},"mark":{"type":"rule","color":"#ff0000","strokeWidth":2.5},"encoding":{"y":{"field":"z","type":"quantitative","scale":{"domain":[-4.115,4.115],"nice":false,"zero":false},"axis":null}}},
 {"data":{"name":"F"},"mark":{"type":"circle","size":18,"color":"black","opacity":1,"clip":true},"encoding":{"x":{"field":"x","type":"quantitative","scale":{"domain":[6.25,6.5],"nice":false,"zero":false},"axis":{"orient":"bottom","values":[6.25,6.3,6.35,6.4,6.45,6.5],"format":".2f","labelPadding":12,"title":"Observed Energy\u00a0\u00a0\u00a0(keV)","titleFontSize":24,"titlePadding":4}},"y":{"field":"y","type":"quantitative","scale":{"domain":[-4.115,4.115],"nice":false,"zero":false},"axis":{"orient":"left","values":[-4,-3,-2,-1,0,1,2,3,4],"labels":false,"title":null}}}},
 {"data":{"values":[{"label":"MYTORUS"}]},"mark":{"type":"text","font":"Liberation Serif","fontSize":24,"align":"left","baseline":"alphabetic","color":"black"},"encoding":{"text":{"field":"label"},"x":{"datum":6.263,"type":"quantitative","axis":{"orient":"top","values":[6.25,6.3,6.35,6.4,6.45,6.5],"labels":false,"title":null}},"y":{"datum":3.43,"type":"quantitative","axis":{"orient":"right","values":[-4,-3,-2,-1,0,1,2,3,4],"labels":false,"title":null}}}}
]}
],
"config":{"view":{"stroke":"black","strokeWidth":1.5},"axis":{"domain":false,"grid":false,"tickSize":-7,"tickColor":"black","tickWidth":1.5,"labelFont":"Liberation Serif","labelFontSize":22,"labelColor":"black","titleFont":"Liberation Serif","titleColor":"black","titleFontWeight":"normal","labelOverlap":false,"labelFlush":false,"labelBound":false}}
}
